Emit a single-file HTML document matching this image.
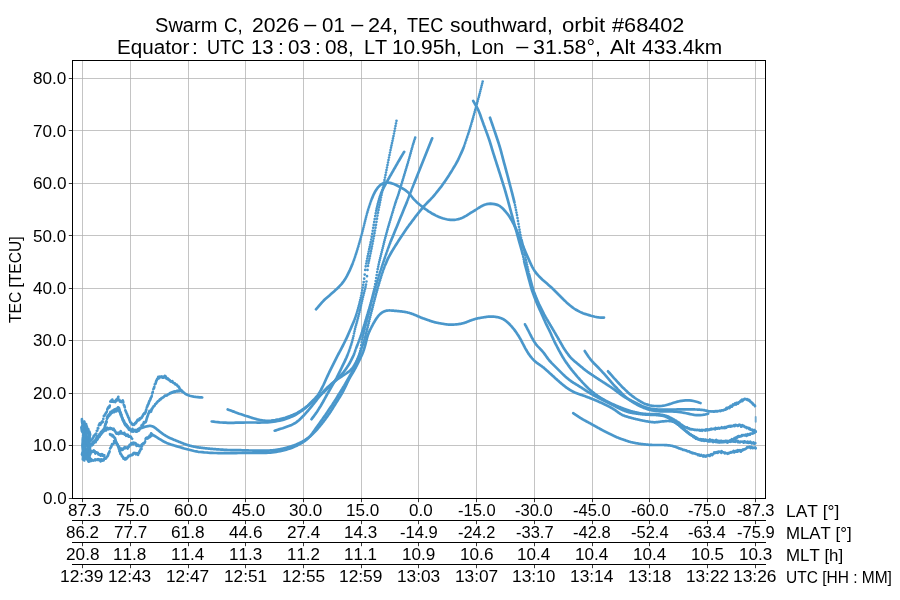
<!DOCTYPE html>
<html lang="en"><head><meta charset="utf-8"><title>Swarm C TEC southward, orbit #68402</title>
<style>
html,body{margin:0;padding:0;background:#fff}
body{width:900px;height:600px;position:relative;overflow:hidden;font-family:"Liberation Sans",sans-serif;color:#000}
.t{position:absolute;white-space:pre;transform-origin:0 0;font-kerning:none;display:block}
.a{font-size:16.25px;line-height:16.25px}
.h{font-size:19.4px;line-height:19.4px}
.yl{position:absolute;white-space:pre;font-kerning:none;transform-origin:0 0}
</style></head><body>
<svg width="900" height="600" viewBox="0 0 900 600" style="position:absolute;left:0;top:0">
<path d="M82.5 60.5V498.5M130.5 60.5V498.5M188.5 60.5V498.5M245.5 60.5V498.5M303.5 60.5V498.5M361.5 60.5V498.5M418.5 60.5V498.5M476.5 60.5V498.5M534.5 60.5V498.5M592.5 60.5V498.5M649.5 60.5V498.5M707.5 60.5V498.5M755.5 60.5V498.5" stroke="#b0b0b0" stroke-opacity="0.75" stroke-width="1" fill="none" shape-rendering="crispEdges"/>
<path d="M72.5 498.5H765.5M72.5 445.5H765.5M72.5 393.5H765.5M72.5 340.5H765.5M72.5 288.5H765.5M72.5 235.5H765.5M72.5 183.5H765.5M72.5 130.5H765.5M72.5 78.5H765.5" stroke="#b0b0b0" stroke-opacity="0.75" stroke-width="1" fill="none" shape-rendering="crispEdges"/>
<g fill="none" stroke="#4a97cb" stroke-width="2.7" stroke-linecap="round" stroke-linejoin="round">
<path d="M316.0 309.3 317.5 307.6 319.0 305.8 320.5 304.1 322.0 302.4 323.5 300.8 325.0 299.3 326.5 298.0 328.0 296.7 329.5 295.4 331.0 294.1 332.5 292.8 334.0 291.5 335.5 290.1 337.0 288.8 338.5 287.3 340.0 285.7 341.5 284.1 343.0 282.2 344.0 280.8 345.0 279.3 346.0 277.6 347.0 275.8 348.0 273.9 349.0 271.9 350.0 269.8 351.0 267.5 352.0 265.1 352.5 263.9M353.0 262.6h0M353.5 261.3h0M354.0 259.9h0M354.5 258.5h0M355.0 257.0h0M355.5 255.4h0M356.0 253.9h0M356.5 252.4h0M357.0 250.8h0M357.5 249.2h0M358.0 247.5h0M358.5 245.9h0M359.0 244.1h0M359.5 242.4h0M360.0 240.7h0M360.5 238.9h0M361.0 237.1h0M361.5 235.3h0M362.0 233.4h0M362.5 231.4h0M363.0 229.4h0M363.5 227.5h0M364.0 225.5h0M364.5 223.4h0M365.0 221.4h0M365.5 219.4h0M366.0 217.4h0M366.5 215.5h0M367.0 213.6h0M367.5 211.9h0M368.0 210.2h0M368.5 208.6h0M369.0 207.0h0M369.5 205.5h0M370.0 204.0h0M370.5 202.5h0M371.0 201.0h0M371.5 199.7h0M372.0 198.4 373.0 196.0 374.0 193.8 375.0 191.8 376.0 190.2 377.0 188.7 378.0 187.4 379.5 185.8 381.0 184.5 382.5 183.7 384.0 183.1 386.0 182.6 388.0 182.6 390.0 182.9 392.0 183.4 394.0 184.1 395.5 184.8 397.0 185.5 398.5 186.3 400.0 187.1 401.5 187.9 403.0 188.7 404.5 189.6 406.0 190.7 407.5 191.9 409.0 193.4 410.5 195.1 412.0 197.0 413.5 198.8 415.0 200.4 416.5 201.9 418.0 203.2 419.5 204.5 421.0 205.7 422.5 206.9 424.0 208.1 425.5 209.2 427.0 210.2 428.5 211.3 430.0 212.2 431.5 213.2 433.0 214.0 434.5 214.8 436.0 215.6 437.5 216.3 439.0 216.9 440.5 217.5 442.5 218.2 444.5 218.8 446.5 219.3 448.5 219.7 450.5 219.9 452.5 219.9 454.5 219.8 456.5 219.5 458.5 219.1 460.5 218.5 462.0 217.9 463.5 217.2 465.0 216.4 466.5 215.6 468.0 214.6 469.5 213.7 471.0 212.7 472.5 211.8 474.0 210.9 475.5 210.0 477.0 209.0 478.5 208.0 480.0 207.1 481.5 206.2 483.0 205.4 484.5 204.8 486.5 204.2 488.5 203.9 490.5 203.7 492.5 203.8 494.5 204.1 496.5 204.6 498.0 205.1 499.5 205.9 501.0 207.0 502.5 208.3 504.0 209.8 505.5 211.5 507.0 213.3 508.0 214.6 509.0 216.1 510.0 217.6 511.0 219.2 512.0 220.9 513.0 222.8 514.0 224.7 515.0 226.8 516.0 228.9 517.0 231.2 518.0 233.6 519.0 236.1M519.5 237.4h0M520.0 238.6h0M520.5 239.9 521.5 242.4 522.5 244.8 523.5 247.2 524.5 249.5 525.5 251.9 526.5 254.2 527.5 256.5 528.5 258.8 529.5 261.1 530.5 263.3 531.5 265.4 532.5 267.3 533.5 269.1 534.5 270.7 535.5 272.1 536.5 273.5 538.0 275.2 539.5 276.8 541.0 278.2 542.5 279.7 544.0 281.0 545.5 282.3 547.0 283.6 548.5 284.9 550.0 286.2 551.5 287.6 553.0 289.0 554.5 290.5 556.0 292.0 557.5 293.5 559.0 295.0 560.5 296.5 562.0 298.0 563.5 299.5 565.0 300.9 566.5 302.4 568.0 303.7 569.5 305.0 571.0 306.2 572.5 307.4 574.0 308.5 575.5 309.5 577.0 310.3 578.5 311.1 580.0 311.9 581.5 312.6 583.0 313.2 585.0 313.9 587.0 314.5 589.0 315.1 591.0 315.7 593.0 316.2 595.0 316.7 597.0 317.1 599.0 317.4 601.0 317.6 603.0 317.6 604.0 317.6"/>
<path d="M92.0 445.0 92.5 444.7 93.0 443.8 93.5 443.0 94.0 442.7 94.5 442.0 95.0 442.0 95.5 442.2 96.0 440.7 96.5 440.0 97.0 439.9 97.5 439.2 98.0 438.3 98.5 437.1 99.0 436.9 99.5 436.6 100.0 434.8 100.5 434.6 101.0 433.1 101.5 432.8 102.0 431.7 102.5 431.9 103.0 430.7 103.5 430.8 104.0 430.0 104.5 428.9M105.0 425.6 105.5 424.7 106.0 423.0 106.5 421.3M107.0 418.7 107.5 417.5 108.0 416.3 108.5 415.8 109.0 416.1 109.5 414.4 110.0 414.2 110.5 414.3 111.0 413.1 111.5 413.0 112.0 412.8 112.5 412.4 113.0 411.3 113.5 411.7 114.0 412.1 114.5 410.3 115.0 411.4 115.5 410.7 116.0 410.0 116.5 411.3 117.0 410.4 117.5 409.2 118.0 409.7 118.5 409.8 119.0 409.8 119.5 411.5 120.0 412.4 120.5 414.0 121.0 415.7 121.5 415.8 122.0 417.5 122.5 418.6 123.0 420.5 123.5 421.2 124.0 422.4 124.5 423.3 125.0 424.6 125.5 425.4 126.0 424.7 126.5 425.6 127.0 427.0 127.5 426.2 128.0 427.6 128.5 428.5 129.0 429.8 129.5 429.9 130.0 429.6 130.5 429.8 131.0 430.2 131.5 431.4 132.0 430.6 132.5 430.9 133.0 431.5 133.5 431.2 134.0 431.1 134.5 430.5 135.0 431.1 135.5 430.8 136.0 431.6 136.5 431.0 137.0 430.2 137.5 430.2 138.0 429.2"/>
<path d="M138.3 429.2 138.8 429.0 139.3 428.8 139.8 428.6 140.3 428.5 140.8 428.3 141.3 428.1 141.8 427.9 142.3 427.7 142.8 427.6 143.3 427.4 143.8 427.2 144.3 427.1 144.8 426.9 145.3 426.8 145.8 426.6 146.3 426.5 146.8 426.4 147.3 426.2 147.8 426.1 148.3 426.1 148.8 426.0 149.3 425.9 149.8 425.9 150.3 425.9 150.8 426.0 151.3 426.0 151.8 426.2 152.3 426.3 152.8 426.5 153.3 426.7 153.8 427.0 154.3 427.3 154.8 427.6 155.3 428.0 155.8 428.4 156.3 428.8 156.8 429.2 157.3 429.6 157.8 430.0 158.3 430.4 158.8 430.8 159.3 431.2 159.8 431.6 160.3 432.0 160.8 432.4 161.3 432.8 161.8 433.2 162.3 433.5 162.8 433.9 163.3 434.2 163.8 434.6 164.3 434.9 164.8 435.2 165.3 435.5 165.8 435.8 166.3 436.1 166.8 436.4 167.3 436.7 167.8 437.0 168.3 437.2 168.8 437.5 169.3 437.7 169.8 438.0 170.3 438.2 170.8 438.4 171.3 438.6 171.8 438.8 172.3 439.0 172.8 439.3 173.3 439.5 173.8 439.7 174.3 439.9 174.8 440.1 175.3 440.3 175.8 440.5 176.3 440.7 176.8 440.9 177.3 441.1 177.8 441.3 178.3 441.5 178.8 441.7 179.3 441.9 179.8 442.1 180.3 442.3 180.8 442.5 181.3 442.7 181.8 442.9 182.3 443.1 182.8 443.3 183.3 443.5 183.8 443.7 184.3 443.9 184.8 444.1 185.3 444.3 185.8 444.5 186.3 444.6 186.8 444.8 187.3 445.0 187.8 445.1 188.3 445.3 188.8 445.4 189.3 445.5 189.8 445.7 190.3 445.8 190.8 445.9 191.3 446.0 191.8 446.2 192.3 446.3 192.8 446.4 193.3 446.5 193.8 446.6 194.3 446.7 194.8 446.8 195.3 446.9 195.8 447.0 196.3 447.1 196.8 447.2 197.3 447.3 197.8 447.3 198.3 447.4 198.8 447.5 199.3 447.6 199.8 447.6 200.3 447.7 200.8 447.7 201.3 447.8 201.8 447.9 202.3 447.9 202.8 448.0 203.3 448.0 203.8 448.1 204.3 448.2 204.8 448.2 205.3 448.3 205.8 448.3 206.3 448.4 206.8 448.4 207.3 448.5 207.8 448.5 208.3 448.6 208.8 448.6 209.3 448.7 209.8 448.7 210.3 448.8 210.8 448.8 211.3 448.9 211.8 448.9 212.3 448.9 212.8 449.0 213.3 449.0 213.8 449.1 214.3 449.1 214.8 449.1 215.3 449.2 215.8 449.2 216.3 449.3 216.8 449.3 217.3 449.3 217.8 449.4 218.3 449.4 218.8 449.4 219.3 449.5 219.8 449.5 220.3 449.5 220.8 449.6 221.3 449.6 221.8 449.6 222.3 449.7 222.8 449.7 223.3 449.7 223.8 449.8 224.3 449.8 224.8 449.8 225.3 449.9 225.8 449.9 226.3 449.9 226.8 449.9 227.3 450.0 227.8 450.0 228.3 450.0 228.8 450.0 229.3 450.0 229.8 450.0 230.3 450.0 230.8 450.1 231.3 450.1 231.8 450.1 232.3 450.1 232.8 450.1 233.3 450.1 233.8 450.1 234.3 450.1 234.8 450.1 235.3 450.1 235.8 450.1 236.3 450.1 236.8 450.2 237.3 450.2 237.8 450.2 238.3 450.2 238.8 450.2 239.3 450.2 239.8 450.2 240.3 450.2 240.8 450.2 241.3 450.2 241.8 450.3 242.3 450.3 242.8 450.3 243.3 450.3 243.8 450.3 244.3 450.3 244.8 450.3 245.3 450.4 245.8 450.4 246.3 450.4 246.8 450.4 247.3 450.4 247.8 450.4 248.3 450.4 248.8 450.5 249.3 450.5 249.8 450.5 250.3 450.5 250.8 450.5 251.3 450.5 251.8 450.5 252.3 450.5 252.8 450.6 253.3 450.6 253.8 450.6 254.3 450.6 254.8 450.6 255.3 450.6 255.8 450.6 256.3 450.6 256.8 450.7 257.3 450.7 257.8 450.7 258.3 450.7 258.8 450.7 259.3 450.7 259.8 450.7 260.3 450.7 260.8 450.7 261.3 450.7 261.8 450.7 262.3 450.7 262.8 450.7 263.3 450.7 263.8 450.7 264.3 450.7 264.8 450.7 265.3 450.7 265.8 450.7 266.3 450.6 266.8 450.6 267.3 450.6 267.8 450.6 268.3 450.6 268.8 450.5 269.3 450.5 269.8 450.5 270.3 450.4 270.8 450.4 271.3 450.4 271.8 450.3 272.3 450.3 272.8 450.3 273.3 450.2 273.8 450.2 274.3 450.1 274.8 450.0 275.3 450.0 275.8 449.9 276.3 449.8 276.8 449.7 277.3 449.7 277.8 449.6 278.3 449.5 278.8 449.4 279.3 449.3 279.8 449.2 280.3 449.1 280.8 449.0 281.3 448.9 281.8 448.8 282.3 448.7 282.8 448.6 283.3 448.5 283.8 448.4 284.3 448.2 284.8 448.1 285.3 448.0 285.8 447.9 286.3 447.7 286.8 447.6 287.3 447.5 287.8 447.3 288.3 447.2 288.8 447.0 289.3 446.9 289.8 446.8 290.3 446.6 290.8 446.5 291.3 446.3 291.8 446.1 292.3 446.0 292.8 445.8 293.3 445.6 293.8 445.5 294.3 445.3 294.8 445.1 295.3 444.9 295.8 444.7 296.3 444.5 296.8 444.3 297.3 444.0 297.8 443.8 298.3 443.6 298.8 443.4 299.3 443.1 299.8 442.9 300.3 442.6 300.8 442.4 301.3 442.1 301.8 441.9 302.3 441.6 302.8 441.3 303.3 441.1 303.8 440.8 304.3 440.5 304.8 440.2 305.3 439.8 305.8 439.5 306.3 439.2 306.8 438.8 307.3 438.5 307.8 438.1 308.3 437.7 308.8 437.4 309.3 437.0 309.8 436.6 310.3 436.2 310.8 435.7 311.3 435.3 311.8 434.8 312.3 434.3 312.8 433.9 313.3 433.4 313.8 432.9 314.3 432.4 314.8 431.9 315.3 431.3 315.8 430.8 316.3 430.3 316.8 429.7 317.3 429.2 317.8 428.6 318.3 428.0 318.8 427.4 319.3 426.8 319.8 426.2 320.3 425.6 320.8 425.0 321.3 424.4 321.8 423.8 322.3 423.1 322.8 422.5 323.3 421.9 323.8 421.2 324.3 420.5 324.8 419.9 325.3 419.2 325.8 418.5 326.3 417.8 326.8 417.1 327.3 416.4 327.8 415.7 328.3 415.0 328.8 414.3 329.3 413.6 329.8 412.9 330.3 412.1 330.8 411.4 331.3 410.6 331.8 409.8 332.3 409.0 332.8 408.2 333.3 407.4 333.8 406.6 334.3 405.8 334.8 405.0 335.3 404.2 335.8 403.4 336.3 402.6 336.8 401.8 337.3 401.0 337.8 400.2 338.3 399.4 338.8 398.6 339.3 397.8 339.8 397.0 340.3 396.2 340.8 395.3 341.3 394.5 341.8 393.7 342.3 392.8 342.8 391.9 343.3 391.0 343.8 390.0 344.3 389.0 344.8 388.0 345.3 387.0 345.8 385.9 346.3 384.8 346.8 383.8 347.3 382.7 347.8 381.7 348.3 380.7 348.8 379.7 349.3 378.7 349.8 377.8 350.3 376.9 350.8 376.1 351.3 375.2 351.8 374.4 352.3 373.5 352.8 372.7 353.3 371.9 353.8 371.0 354.3 370.1 354.8 369.2 355.3 368.3 355.8 367.3 356.3 366.4 356.8 365.4 357.3 364.4 357.8 363.4 358.3 362.4 358.8 361.4 359.3 360.4 359.8 359.4 360.3 358.3 360.8 357.3 361.3 356.2 361.8 355.1 362.3 354.0 362.8 352.7 363.3 351.4 363.8 350.0 364.3 348.4 364.8 346.7 365.3 344.8 365.8 342.8 366.3 340.8 366.8 338.9 367.3 337.0 367.8 335.4 368.3 334.0 368.8 332.7 369.3 331.6 369.8 330.5 370.3 329.5 370.8 328.5 371.3 327.5 371.8 326.5 372.3 325.6 372.8 324.7 373.3 323.7 373.8 322.8 374.3 322.0 374.8 321.1 375.3 320.3 375.8 319.5 376.3 318.7 376.8 317.9 377.3 317.3 377.8 316.6 378.3 316.0 378.8 315.4 379.3 314.9 379.8 314.4 380.3 313.9 380.8 313.5 381.3 313.1 381.8 312.7 382.3 312.4 382.8 312.1 383.3 311.8 383.8 311.6 384.3 311.4 384.8 311.2 385.3 311.0 385.8 310.9 386.3 310.8 386.8 310.6 387.3 310.6 387.8 310.5 388.3 310.5 388.8 310.5 389.3 310.4 389.8 310.5 390.3 310.5 390.8 310.5 391.3 310.5 391.8 310.6 392.3 310.6 392.8 310.6 393.3 310.7 393.8 310.7 394.3 310.8 394.8 310.8 395.3 310.8 395.8 310.9 396.3 310.9 396.8 311.0 397.3 311.0 397.8 311.1 398.3 311.1 398.8 311.1 399.3 311.2 399.8 311.3 400.3 311.3 400.8 311.4 401.3 311.4 401.8 311.5 402.3 311.6 402.8 311.6 403.3 311.7 403.8 311.8 404.3 311.9 404.8 311.9 405.3 312.0 405.8 312.1 406.3 312.2 406.8 312.3 407.3 312.4 407.8 312.6 408.3 312.7 408.8 312.8 409.3 312.9 409.8 313.1 410.3 313.2 410.8 313.4 411.3 313.5 411.8 313.7 412.3 313.9 412.8 314.1 413.3 314.3 413.8 314.5 414.3 314.7 414.8 314.9 415.3 315.1 415.8 315.3 416.3 315.5 416.8 315.7 417.3 316.0 417.8 316.2 418.3 316.4 418.8 316.6 419.3 316.8 419.8 317.1 420.3 317.3 420.8 317.5 421.3 317.7 421.8 317.9 422.3 318.0 422.8 318.2 423.3 318.4 423.8 318.6 424.3 318.8 424.8 319.0 425.3 319.1 425.8 319.3 426.3 319.5 426.8 319.7 427.3 319.8 427.8 320.0 428.3 320.2 428.8 320.3 429.3 320.5 429.8 320.7 430.3 320.9 430.8 321.0 431.3 321.2 431.8 321.4 432.3 321.5 432.8 321.7 433.3 321.8 433.8 322.0 434.3 322.1 434.8 322.2 435.3 322.4 435.8 322.5 436.3 322.6 436.8 322.7 437.3 322.8 437.8 322.9 438.3 323.0 438.8 323.1 439.3 323.2 439.8 323.3 440.3 323.4 440.8 323.5 441.3 323.5 441.8 323.6 442.3 323.7 442.8 323.8 443.3 323.9 443.8 324.0 444.3 324.0 444.8 324.1 445.3 324.2 445.8 324.3 446.3 324.3 446.8 324.4 447.3 324.5 447.8 324.5 448.3 324.6 448.8 324.6 449.3 324.6 449.8 324.7 450.3 324.7 450.8 324.7 451.3 324.7 451.8 324.7 452.3 324.7 452.8 324.6 453.3 324.6 453.8 324.6 454.3 324.5 454.8 324.5 455.3 324.5 455.8 324.4 456.3 324.4 456.8 324.3 457.3 324.3 457.8 324.2 458.3 324.1 458.8 324.1 459.3 324.0 459.8 323.9 460.3 323.8 460.8 323.8 461.3 323.7 461.8 323.5 462.3 323.4 462.8 323.3 463.3 323.2 463.8 323.0 464.3 322.9 464.8 322.7 465.3 322.5 465.8 322.4 466.3 322.2 466.8 322.0 467.3 321.8 467.8 321.6 468.3 321.4 468.8 321.2 469.3 321.0 469.8 320.8 470.3 320.6 470.8 320.5 471.3 320.3 471.8 320.1 472.3 319.9 472.8 319.7 473.3 319.6 473.8 319.4 474.3 319.2 474.8 319.1 475.3 318.9 475.8 318.8 476.3 318.7 476.8 318.6 477.3 318.5 477.8 318.3 478.3 318.2 478.8 318.2 479.3 318.1 479.8 318.0 480.3 317.9 480.8 317.8 481.3 317.7 481.8 317.6 482.3 317.5 482.8 317.5 483.3 317.4 483.8 317.3 484.3 317.2 484.8 317.1 485.3 317.1 485.8 317.0 486.3 316.9 486.8 316.9 487.3 316.8 487.8 316.7 488.3 316.7 488.8 316.7 489.3 316.6 489.8 316.6 490.3 316.6 490.8 316.6 491.3 316.6 491.8 316.6 492.3 316.6 492.8 316.6 493.3 316.7 493.8 316.7 494.3 316.7 494.8 316.8 495.3 316.9 495.8 316.9 496.3 317.0 496.8 317.1 497.3 317.1 497.8 317.2 498.3 317.3 498.8 317.5 499.3 317.6 499.8 317.7 500.3 317.9 500.8 318.1 501.3 318.2 501.8 318.5 502.3 318.7 502.8 318.9 503.3 319.2 503.8 319.5 504.3 319.8 504.8 320.1 505.3 320.5 505.8 320.9 506.3 321.2 506.8 321.7 507.3 322.1 507.8 322.6 508.3 323.0 508.8 323.5 509.3 324.0 509.8 324.5 510.3 325.0 510.8 325.6 511.3 326.1 511.8 326.7 512.3 327.3 512.8 327.9 513.3 328.5 513.8 329.1 514.3 329.7 514.8 330.4 515.3 331.1 515.8 331.8 516.3 332.5 516.8 333.2 517.3 334.0 517.8 334.7 518.3 335.5 518.8 336.3 519.3 337.1 519.8 338.0 520.3 338.8 520.8 339.7 521.3 340.6 521.8 341.6 522.3 342.6 522.8 343.5 523.3 344.5 523.8 345.5 524.3 346.4 524.8 347.3 525.3 348.3 525.8 349.2 526.3 350.0 526.8 350.9 527.3 351.8 527.8 352.6 528.3 353.4 528.8 354.1 529.3 354.8 529.8 355.5 530.3 356.2 530.8 356.8 531.3 357.4 531.8 358.0 532.3 358.6 532.8 359.1 533.3 359.6 533.8 360.2 534.3 360.6 534.8 361.1 535.3 361.6 535.8 362.0 536.3 362.4 536.8 362.8 537.3 363.1 537.8 363.5 538.3 363.9 538.8 364.2 539.3 364.5 539.8 364.9 540.3 365.2 540.8 365.6 541.3 365.9 541.8 366.3 542.3 366.7 542.8 367.1 543.3 367.4 543.8 367.8 544.3 368.3 544.8 368.7 545.3 369.1 545.8 369.6 546.3 370.0 546.8 370.5 547.3 370.9 547.8 371.4 548.3 371.8 548.8 372.3 549.3 372.7 549.8 373.2 550.3 373.6 550.8 374.1 551.3 374.5 551.8 375.0 552.3 375.5 552.8 375.9 553.3 376.4 553.8 376.8 554.3 377.3 554.8 377.7 555.3 378.2 555.8 378.6 556.3 379.1 556.8 379.5 557.3 380.0 557.8 380.4 558.3 380.9 558.8 381.3 559.3 381.8 559.8 382.2 560.3 382.6 560.8 383.0 561.3 383.5 561.8 383.9 562.3 384.3 562.8 384.7 563.3 385.1 563.8 385.5 564.3 385.9 564.8 386.3 565.3 386.7 565.8 387.1 566.3 387.5 566.8 387.8 567.3 388.2 567.8 388.5 568.3 388.8 568.8 389.2 569.3 389.5 569.8 389.8 570.3 390.1 570.8 390.4 571.3 390.7 571.8 390.9 572.3 391.2 572.8 391.5 573.3 391.7 573.8 392.0 574.3 392.2 574.8 392.5 575.3 392.7 575.8 392.9 576.3 393.1 576.8 393.3 577.3 393.5 577.8 393.7 578.3 393.8 578.8 394.0 579.3 394.2 579.8 394.4 580.3 394.5 580.8 394.7 581.3 394.9 581.8 395.0 582.3 395.2 582.8 395.4 583.3 395.6 583.8 395.8 584.3 395.9 584.8 396.1 585.3 396.3 585.8 396.5 586.3 396.7 586.8 396.9 587.3 397.0 587.8 397.2 588.3 397.4 588.8 397.6 589.3 397.8 589.8 398.0 590.3 398.2 590.8 398.4 591.3 398.6 591.8 398.8 592.3 399.0 592.8 399.2 593.3 399.4 593.8 399.6 594.3 399.8 594.8 400.0 595.3 400.2 595.8 400.4 596.3 400.6 596.8 400.8 597.3 401.1 597.8 401.3 598.3 401.5 598.8 401.7 599.3 401.9 599.8 402.2 600.3 402.4 600.8 402.6 601.3 402.8 601.8 403.1 602.3 403.3 602.8 403.5 603.3 403.7 603.8 404.0 604.3 404.2 604.8 404.5 605.3 404.7 605.8 404.9 606.3 405.2 606.8 405.4 607.3 405.7 607.8 405.9 608.3 406.2 608.8 406.4 609.3 406.7 609.8 407.0 610.3 407.2 610.8 407.5 611.3 407.8 611.8 408.1 612.3 408.4 612.8 408.7 613.3 409.0 613.8 409.3 614.3 409.6 614.8 409.9 615.3 410.3 615.8 410.7 616.3 411.0 616.8 411.4 617.3 411.7 617.8 412.1 618.3 412.5 618.8 412.8 619.3 413.2 619.8 413.5 620.3 413.8 620.8 414.1 621.3 414.4 621.8 414.7 622.3 414.9 622.8 415.2 623.3 415.4 623.8 415.6 624.3 415.8 624.8 416.0 625.3 416.2 625.8 416.3 626.3 416.5 626.8 416.6 627.3 416.8 627.8 416.9 628.3 417.1 628.8 417.2 629.3 417.4 629.8 417.5 630.3 417.6 630.8 417.8 631.3 417.9 631.8 418.0 632.3 418.2 632.8 418.3 633.3 418.4 633.8 418.6 634.3 418.7 634.8 418.8 635.3 418.9 635.8 419.1 636.3 419.2 636.8 419.3 637.3 419.4 637.8 419.5 638.3 419.6 638.8 419.7 639.3 419.8 639.8 420.0 640.3 420.1 640.8 420.2 641.3 420.3 641.8 420.4 642.3 420.5 642.8 420.6 643.3 420.7 643.8 420.8 644.3 420.9 644.8 421.0 645.3 421.1 645.8 421.2 646.3 421.3 646.8 421.4 647.3 421.4 647.8 421.5 648.3 421.6 648.8 421.7 649.3 421.8 649.8 421.8 650.3 421.9 650.8 422.0 651.3 422.0 651.8 422.1 652.3 422.2 652.8 422.2 653.3 422.2 653.8 422.3 654.3 422.3 654.8 422.3 655.3 422.3 655.8 422.2 656.3 422.2 656.8 422.2 657.3 422.1 657.8 422.1 658.3 422.0 658.8 421.9 659.3 421.9 659.8 421.8 660.3 421.7 660.8 421.6 661.3 421.5 661.8 421.5 662.3 421.4 662.8 421.4 663.3 421.3 663.8 421.3 664.3 421.3 664.8 421.2 665.3 421.1 665.8 421.1 666.3 421.1 666.8 421.0 667.3 421.0 667.8 421.0 668.3 421.0 668.8 421.0 669.3 421.1 669.8 421.2 670.3 421.1 670.8 421.2 671.3 421.3 671.8 421.4 672.3 421.6 672.8 421.6 673.3 421.8 673.8 421.8 674.3 422.1 674.8 422.5 675.3 422.7 675.8 422.9 676.3 423.3 676.8 423.7 677.3 424.1 677.8 424.4 678.3 424.8 678.8 425.0 679.3 425.5 679.8 426.3 680.3 426.3 680.8 426.9 681.3 427.5 681.8 427.8 682.3 428.2 682.8 428.7 683.3 429.1 683.8 429.5 684.3 429.7 684.8 430.3 685.3 430.6 685.8 431.0 686.3 431.6 686.8 432.0 687.3 432.4 687.8 432.6 688.3 433.2 688.8 433.6 689.3 434.0 689.8 434.4 690.3 434.4 690.8 434.8 691.3 435.3 691.8 435.2 692.3 435.8 692.8 436.0 693.3 436.3 693.8 436.3 694.3 436.8 694.8 437.3 695.3 437.8 695.8 438.1 696.3 438.1 696.8 438.3 697.3 438.4 697.8 438.9 698.3 438.9 698.8 439.3 699.3 439.7 699.8 439.4 700.3 439.1 700.8 439.4 701.3 439.3 701.8 439.4 702.3 440.1 702.8 439.8 703.3 439.4 703.8 440.0 704.3 440.2 704.8 439.7 705.3 439.6 705.8 439.7 706.3 439.9 706.8 440.1 707.3 440.3 707.8 440.3 708.3 440.3 708.8 440.4 709.3 440.2 709.8 439.5 710.3 440.0 710.8 440.2 711.3 440.1 711.8 440.6 712.3 440.2 712.8 440.1 713.3 441.0 713.8 440.8 714.3 440.7 714.8 441.0 715.3 441.1 715.8 440.9 716.3 440.0 716.8 440.7 717.3 440.8 717.8 440.7 718.3 441.2 718.8 441.7 719.3 441.1 719.8 440.9 720.3 442.2 720.8 441.2 721.3 440.9 721.8 441.6 722.3 441.6 722.8 441.2 723.3 441.8 723.8 441.3 724.3 441.1 724.8 441.6 725.3 441.8 725.8 441.2 726.3 441.6 726.8 441.4 727.3 442.5 727.8 441.1 728.3 441.9 728.8 441.3 729.3 441.3 729.8 441.6 730.3 441.6 730.8 441.8 731.3 441.4 731.8 441.0 732.3 441.0 732.8 441.4 733.3 441.4 733.8 441.7 734.3 441.4 734.8 441.6 735.3 441.8 735.8 441.3 736.3 440.7 736.8 440.9 737.3 440.8 737.8 442.0 738.3 441.1 738.8 442.0 739.3 441.8 739.8 442.3 740.3 442.0 740.8 441.6 741.3 441.7 741.8 441.8 742.3 441.9 742.8 441.7 743.3 441.9 743.8 442.6 744.3 441.3 744.8 442.1 745.3 441.7 745.8 442.2 746.3 442.5 746.8 442.2 747.3 442.6 747.8 441.7 748.3 442.8 748.8 442.2 749.3 442.7 749.8 442.6 750.3 441.6 750.8 442.4 751.3 442.8 751.8 443.4 752.3 443.0 752.8 443.0 753.3 442.4 753.8 443.6 754.3 443.8 754.8 443.2 755.3 443.2"/>
<path d="M87.6 459.3 88.1 460.7 88.6 461.7 89.1 460.6 89.6 460.9 90.1 460.5 90.6 459.7 91.1 460.9 91.6 459.5 92.1 460.1 92.6 460.4 93.1 460.7 93.6 460.4 94.1 460.4 94.6 459.8 95.1 459.5 95.6 460.2 96.1 459.8 96.6 459.5 97.1 459.5 97.6 459.9 98.1 459.2 98.6 459.5 99.1 459.3 99.6 460.3 100.1 460.4 100.6 461.3 101.1 459.4 101.6 459.8 102.1 460.7 102.6 459.8 103.1 459.5 103.6 460.3 104.1 459.0 104.6 458.3 105.1 457.9 105.6 458.6 106.1 458.3 106.6 457.1 107.1 456.6 107.6 456.2 108.1 455.1 108.6 453.2 109.1 452.8 109.6 451.3M110.1 448.5 110.6 447.8 111.1 447.1 111.6 445.8 112.1 444.1 112.6 444.2 113.1 444.0 113.6 443.7M114.1 441.0 114.6 443.0M115.1 440.2 115.6 440.7 116.1 442.0 116.6 443.1 117.1 443.8 117.6 444.2 118.1 446.3 118.6 446.6 119.1 446.6M119.6 450.6 120.1 449.4 120.6 450.0 121.1 448.5 121.6 449.8 122.1 449.9 122.6 449.9 123.1 448.9 123.6 448.1 124.1 448.5 124.6 447.2 125.1 447.3 125.6 448.1 126.1 447.4 126.6 447.6 127.1 447.5 127.6 448.5 128.1 447.6 128.6 446.4 129.1 446.6 129.6 445.0 130.1 444.7 130.6 444.9 131.1 443.4 131.6 443.7 132.1 443.0 132.6 443.6 133.1 444.2 133.6 442.7 134.1 443.2 134.6 442.9 135.1 443.1 135.6 443.3 136.1 445.1 136.6 445.9 137.1 445.2 137.6 444.8 138.1 445.7 138.6 445.3 139.1 446.2 139.6 446.1 140.1 446.2 140.6 446.4 141.1 445.4 141.6 445.1 142.1 444.1 142.6 444.4 143.1 443.5 143.6 443.9 144.1 443.1 144.6 442.9 145.1 441.5M145.6 439.0 146.1 438.1 146.6 437.7 147.1 438.4 147.6 438.6 148.1 437.8 148.6 436.8 149.1 437.5 149.6 435.6 150.1 436.9 150.6 435.1 151.1 433.4M151.6 435.8h0"/>
<path d="M151.7 434.2 153.2 435.1 154.7 436.0 156.2 436.9 157.7 437.8 159.2 438.8 160.7 439.7 162.2 440.6 163.7 441.5 165.2 442.2 166.7 442.9 168.2 443.5 170.2 444.2 172.2 444.9 174.2 445.5 176.2 446.1 178.2 446.7 180.2 447.3 182.2 447.9 184.2 448.5 186.2 449.0 188.2 449.5 190.2 450.0 192.2 450.5 194.2 451.0 196.2 451.4 198.2 451.8 200.2 452.0 202.2 452.2 204.2 452.4 206.2 452.5 208.2 452.7 210.2 452.8 212.2 452.9 214.2 453.0 216.2 453.0 218.2 453.1 220.2 453.1 222.2 453.1 224.2 453.1 226.2 453.2 228.2 453.2 230.2 453.2 232.2 453.1 234.2 453.1 236.2 453.1 238.2 453.0 240.2 453.0 242.2 453.0 244.2 453.0 246.2 453.0 248.2 453.0 250.2 453.0 252.2 453.0 254.2 453.0 256.2 453.0 258.2 453.0 260.2 453.0 262.2 453.0 264.2 452.9 266.2 452.8 268.2 452.7 270.2 452.6 272.2 452.4 274.2 452.2 276.2 451.9 278.2 451.5 280.2 451.1 282.2 450.7 284.2 450.2 286.2 449.6 288.2 449.0 290.2 448.4 292.2 447.7 293.7 447.1 295.2 446.4 296.7 445.7 298.2 444.9 299.7 444.1 301.2 443.3 302.7 442.3 304.2 441.4 305.7 440.3 307.2 439.1 308.7 437.7 310.2 436.1 311.2 434.8 312.2 433.5 313.2 432.1 314.2 430.7 315.2 429.3 316.2 427.9 317.2 426.5 318.2 425.1 319.2 423.7 320.2 422.3 321.2 420.9 322.2 419.5 323.2 418.0 324.2 416.6 325.2 415.2 326.2 413.7 327.2 412.3 328.2 410.8 329.2 409.3 330.2 407.8 331.2 406.4 332.2 404.9 333.2 403.3 334.2 401.8 335.2 400.2 336.2 398.6 337.2 397.0 338.2 395.3 339.2 393.7 340.2 392.1 341.2 390.5 342.2 388.9 343.2 387.2 344.2 385.6 345.2 383.9 346.2 382.1 347.2 380.4 348.2 378.7 349.2 377.0 350.2 375.2 351.2 373.4 352.2 371.5 353.2 369.4 354.2 367.3 355.2 365.1 356.2 362.8 357.2 360.5 358.2 358.1M358.7 356.8h0M359.2 355.5h0M359.7 354.2h0M360.2 352.9h0M360.7 351.5h0M361.2 350.1h0M361.7 348.6h0M362.2 347.1h0M362.7 345.6h0M363.2 344.0h0M363.7 342.4h0M364.2 340.7h0M364.7 339.0h0M365.2 337.2h0M365.7 335.2h0M366.2 333.2h0M366.7 331.2h0M367.2 329.2h0M367.7 327.2h0M368.2 325.2h0M368.7 323.2h0M369.2 321.2h0M369.7 319.1h0M370.2 317.1h0M370.7 315.1h0M371.2 313.1h0M371.7 311.1h0M372.2 309.2h0M372.7 307.2h0M373.2 305.2h0M373.7 303.3h0M374.2 301.3h0M374.7 299.4h0M375.2 297.5h0M375.7 295.7h0M376.2 293.8h0M376.7 292.0h0M377.2 290.2h0M377.7 288.4h0M378.2 286.6h0M378.7 284.9h0M379.2 283.2h0M379.7 281.5h0M380.2 279.9h0M380.7 278.3h0M381.2 276.7h0M381.7 275.1h0M382.2 273.6h0M382.7 272.0h0M383.2 270.5h0M383.7 269.1h0M384.2 267.8h0M384.7 266.4h0M385.2 265.1h0M385.7 263.9 386.7 261.4 387.7 259.1 388.7 257.1 389.7 255.3 390.7 253.5 391.7 251.8 392.7 250.1 393.7 248.5 394.7 246.9 395.7 245.3 396.7 243.7 397.7 242.1 398.7 240.5 399.7 239.0 400.7 237.5 401.7 236.0 402.7 234.5 403.7 233.0 404.7 231.5 405.7 230.0 406.7 228.5 407.7 227.1 408.7 225.8 409.7 224.4 410.7 223.1 411.7 221.7 412.7 220.4 413.7 219.1 414.7 217.7 415.7 216.4 416.7 215.2 417.7 213.9 418.7 212.6 419.7 211.4 420.7 210.1 422.2 208.3 423.7 206.5 425.2 204.9 426.7 203.3 428.2 201.8 429.7 200.3 431.2 198.7 432.7 197.1 434.2 195.3 435.7 193.5 437.2 191.6 438.2 190.4 439.2 189.1 440.2 187.8 441.2 186.6 442.2 185.2 443.2 183.8 444.2 182.4 445.2 180.9 446.2 179.4 447.2 177.9 448.2 176.4 449.2 174.9 450.2 173.3 451.2 171.7 452.2 170.1 453.2 168.4 454.2 166.7 455.2 165.1 456.2 163.3 457.2 161.5 458.2 159.6 459.2 157.5 460.2 155.3 461.2 153.1 462.2 150.9 463.2 148.5 463.7 147.3M464.2 146.0h0M464.7 144.6h0M465.2 143.1h0M465.7 141.6h0M466.2 140.1h0M466.7 138.6h0M467.2 137.1h0M467.7 135.6h0M468.2 134.1h0M468.7 132.5h0M469.2 130.9h0M469.7 129.3h0M470.2 127.7h0M470.7 126.0h0M471.2 124.3h0M471.7 122.6h0M472.2 120.9h0M472.7 119.2h0M473.2 117.4h0M473.7 115.6h0M474.2 113.8h0M474.7 111.9h0M475.2 110.1h0M475.7 108.3h0M476.2 106.4h0M476.7 104.6h0M477.2 102.8h0M477.7 100.9h0M478.2 99.1h0M478.7 97.3h0M479.2 95.4h0M479.7 93.5h0M480.2 91.6h0M480.7 89.6h0M481.2 87.6h0M481.7 85.5h0M482.2 83.5h0M482.7 81.5h0"/>
<path d="M311.5 419.2 312.5 417.9 313.5 416.6 314.5 415.2 315.5 413.9 316.5 412.5 317.5 411.0 318.5 409.4 319.5 407.8 320.5 406.2 321.5 404.5 322.5 402.8 323.5 401.0 324.5 399.2 325.5 397.3 326.5 395.5 327.5 393.7 328.5 392.0 329.5 390.3 330.5 388.5 331.5 386.8 332.5 385.1 333.5 383.4 334.5 381.6 335.5 379.9 336.5 378.1 337.5 376.2 338.5 374.2 339.5 372.1 340.5 370.1 341.5 368.0 342.5 365.9 343.5 363.9 344.5 361.8 345.5 359.7 346.5 357.5 347.5 355.1M348.0 353.8h0M348.5 352.5h0M349.0 351.2h0M349.5 349.8h0M350.0 348.3h0M350.5 346.8h0M351.0 345.3h0M351.5 343.7h0M352.0 342.0h0M352.5 340.2h0M353.0 338.2h0M353.5 336.0h0M354.0 333.6h0M354.5 331.3h0M355.0 329.1h0M355.5 327.1h0M356.0 325.3h0M356.5 323.5h0M357.0 321.7h0M357.5 319.8h0M358.0 317.9h0M358.5 315.9h0M359.0 314.0h0M359.5 311.9h0M360.0 309.9h0M360.5 307.8h0M361.0 305.7h0M361.5 303.5h0M362.0 301.3h0M362.5 299.2h0M363.0 297.1h0M363.5 295.0h0M364.0 293.0h0M364.5 291.0h0M365.0 289.0h0M365.5 286.9h0M366.0 284.6h0M366.5 281.5h0M367.0 276.2h0M367.5 269.9h0M368.0 265.9h0M368.5 263.1h0M369.0 260.7h0M369.5 258.4h0M370.0 256.0h0M370.5 253.6h0M371.0 251.2h0M371.5 248.7h0M372.0 246.3h0M372.5 243.8h0M373.0 241.2h0M373.5 238.6h0M374.0 235.9h0M374.5 233.2h0M375.0 230.5h0M375.5 227.7h0M376.0 224.8h0M376.5 221.8h0M377.0 218.7h0M377.5 215.6h0M378.0 212.7h0M378.5 209.9h0M379.0 207.3h0M379.5 204.9h0M380.0 202.4h0M380.5 200.0h0M381.0 197.5h0M381.5 195.0h0M382.0 192.5h0M382.5 190.0h0M383.0 187.5h0M383.5 185.0h0M384.0 182.5h0M384.5 180.0h0M385.0 177.5h0M385.5 175.0h0M386.0 172.5h0M386.5 170.0h0M387.0 167.5h0M387.5 165.0h0M388.0 162.5h0M388.5 160.0h0M389.0 157.5h0M389.5 155.0h0M390.0 152.5h0M390.5 150.1h0M391.0 147.7h0M391.5 145.4h0M392.0 143.1h0M392.5 140.8h0M393.0 138.4h0M393.5 136.1h0M394.0 133.6h0M394.5 131.1h0M395.0 128.5h0M395.5 126.0h0M396.0 123.4h0M396.5 120.8h0"/>
<path d="M227.7 409.4 229.2 410.0 230.7 410.5 232.2 411.1 233.7 411.6 235.2 412.2 237.2 412.9 239.2 413.7 241.2 414.3 243.2 415.0 245.2 415.7 247.2 416.3 249.2 416.9 251.2 417.6 253.2 418.2 255.2 418.8 257.2 419.4 259.2 419.8 261.2 420.2 263.2 420.5 265.2 420.7 267.2 420.8 269.2 420.8 271.2 420.6 273.2 420.3 275.2 420.0 277.2 419.6 279.2 419.2 281.2 418.7 283.2 418.2 285.2 417.7 287.2 417.0 289.2 416.4 291.2 415.6 292.7 415.0 294.2 414.3 295.7 413.6 297.2 412.9 298.7 412.0 300.2 411.1 301.7 410.2 303.2 409.1 304.7 408.1 306.2 406.9 307.7 405.7 309.2 404.3 310.7 402.8 312.2 401.3 313.7 399.8 315.2 398.2 316.7 396.5 317.7 395.3 318.7 393.8 319.7 392.2 320.7 390.4 321.7 388.5 322.7 386.5 323.7 384.5 324.7 382.3 325.7 380.0 326.7 377.8 327.7 375.6 328.7 373.5 329.7 371.4 330.7 369.4 331.7 367.3 332.7 365.3 333.7 363.3 334.7 361.3 335.7 359.3 336.7 357.3 337.7 355.4 338.7 353.5 339.7 351.7 340.7 349.8 341.7 347.9 342.7 346.0 343.7 344.0 344.7 342.0 345.7 339.9 346.7 337.8 347.7 335.6 348.7 333.3 349.7 331.0 350.7 328.7 351.7 326.4 352.7 324.0 353.7 321.7 354.2 320.5M354.7 319.2h0M355.2 317.8h0M355.7 316.4h0M356.2 314.9h0M356.7 313.3h0M357.2 311.6h0M357.7 309.9h0M358.2 308.1h0M358.7 306.2h0M359.2 304.3h0M359.7 302.2h0M360.2 300.0h0M360.7 297.8h0M361.2 295.5h0M361.7 292.9h0M362.2 290.3h0M362.7 287.6h0M363.2 284.8h0M363.7 282.0h0M364.2 278.7h0M364.7 274.6h0M365.2 269.9h0M365.7 266.3h0M366.2 263.5h0M366.7 261.0h0M367.2 258.5h0M367.7 256.2h0M368.2 253.8h0M368.7 251.5h0M369.2 249.2h0M369.7 246.9h0M370.2 244.6h0M370.7 242.2h0M371.2 239.6h0M371.7 236.8h0M372.2 233.8h0M372.7 230.8h0M373.2 227.8h0M373.7 224.9h0M374.2 221.9h0M374.7 219.0h0M375.2 216.1h0M375.7 213.3h0M376.2 210.7h0M376.7 208.4h0M377.2 206.3h0M377.7 204.2h0M378.2 202.3h0M378.7 200.5h0M379.2 198.8h0M379.7 197.2h0M380.2 195.8h0M380.7 194.4h0M381.2 193.1 382.2 190.8 383.2 188.7 384.2 186.7 385.2 184.8 386.2 182.9 387.2 181.2 388.2 179.4 389.2 177.7 390.2 175.9 391.2 174.2 392.2 172.4 393.2 170.7 394.2 168.9 395.2 167.2 396.2 165.4 397.2 163.7 398.2 161.9 399.2 160.2 400.2 158.5 401.2 156.8 402.2 155.1 403.2 153.4 404.2 151.8"/>
<path d="M211.7 421.5 213.7 421.7 215.7 422.0 217.7 422.2 219.7 422.4 221.7 422.5 223.7 422.7 225.7 422.7 227.7 422.8 229.7 422.8 231.7 422.8 233.7 422.8 235.7 422.7 237.7 422.7 239.7 422.6 241.7 422.6 243.7 422.6 245.7 422.5 247.7 422.5 249.7 422.5 251.7 422.5 253.7 422.5 255.7 422.5 257.7 422.6 259.7 422.6 261.7 422.5 263.7 422.5 265.7 422.4 267.7 422.3 269.7 422.2 271.7 421.9 273.7 421.6 275.7 421.3 277.7 421.0 279.7 420.6 281.7 420.2 283.7 419.6 285.7 419.0 287.7 418.3 289.2 417.7 290.7 417.1 292.2 416.5 293.7 415.8 295.2 415.0 296.7 414.1 298.2 413.2 299.7 412.2 301.2 411.2 302.7 410.1 304.2 408.9 305.7 407.8 307.2 406.5 308.7 405.3 310.2 404.0 311.7 402.7 313.2 401.3 314.7 400.0 316.2 398.8 317.7 397.5 319.2 396.2 320.7 394.9 322.2 393.6 323.7 392.2 325.2 390.8 326.7 389.3 328.2 387.8 329.7 386.3 331.2 384.8 332.7 383.3 334.2 381.8 335.7 380.3 337.2 378.8 338.7 377.3 340.2 375.8 341.7 374.2 343.2 372.6 344.7 370.7 345.7 369.3 346.7 367.9 347.7 366.3 348.7 364.7 349.7 363.0 350.7 361.2 351.7 359.2 352.7 357.2 353.7 355.0 354.2 353.8M354.7 352.4h0M355.2 350.9h0M355.7 349.5h0M356.2 348.1h0M356.7 346.8 357.7 344.3M358.2 343.0h0M358.7 341.7h0M359.2 340.4h0M359.7 338.9h0M360.2 337.5h0M360.7 336.0h0M361.2 334.5h0M361.7 333.0h0M362.2 331.4h0M362.7 329.9h0M363.2 328.3h0M363.7 326.7h0M364.2 325.0h0M364.7 323.3h0M365.2 321.7h0M365.7 320.0h0M366.2 318.4h0M366.7 316.7h0M367.2 315.0h0M367.7 313.3h0M368.2 311.7h0M368.7 310.0h0M369.2 308.3h0M369.7 306.6h0M370.2 304.9h0M370.7 303.1h0M371.2 301.2h0M371.7 299.3h0M372.2 297.3h0M372.7 295.3h0M373.2 293.3h0M373.7 291.3h0M374.2 289.1h0M374.7 286.8h0M375.2 284.1h0M375.7 281.1h0M376.2 278.0h0M376.7 275.0h0M377.2 272.0h0M377.7 269.2h0M378.2 266.7h0M378.7 264.3h0M379.2 262.1h0M379.7 260.0h0M380.2 258.0h0M380.7 256.0h0M381.2 254.0h0M381.7 252.0h0M382.2 250.0h0M382.7 248.0h0M383.2 246.0h0M383.7 243.9h0M384.2 241.9h0M384.7 240.0h0M385.2 238.1h0M385.7 236.2h0M386.2 234.3h0M386.7 232.5h0M387.2 230.7h0M387.7 228.9h0M388.2 227.1h0M388.7 225.4h0M389.2 223.7h0M389.7 222.0h0M390.2 220.3h0M390.7 218.7h0M391.2 217.0h0M391.7 215.3h0M392.2 213.6h0M392.7 212.0h0M393.2 210.3h0M393.7 208.6h0M394.2 207.0h0M394.7 205.3h0M395.2 203.7h0M395.7 202.2h0M396.2 200.7h0M396.7 199.3h0M397.2 197.9h0M397.7 196.5h0M398.2 195.0h0M398.7 193.4h0M399.2 191.8h0M399.7 190.2h0M400.2 188.5h0M400.7 186.8h0M401.2 185.2h0M401.7 183.5h0M402.2 181.8h0M402.7 180.2h0M403.2 178.5h0M403.7 176.8h0M404.2 175.2h0M404.7 173.5h0M405.2 171.8h0M405.7 170.2h0M406.2 168.5h0M406.7 166.8h0M407.2 165.2h0M407.7 163.5h0M408.2 161.8h0M408.7 160.1h0M409.2 158.3h0M409.7 156.5h0M410.2 154.7h0M410.7 152.9h0M411.2 151.0h0M411.7 149.2h0M412.2 147.5h0M412.7 145.7h0M413.2 144.1h0M413.7 142.4h0M414.2 140.8h0M414.7 139.3h0M415.2 137.7h0"/>
<path d="M274.7 430.7 276.7 430.1 278.7 429.4 280.7 428.8 282.7 428.2 284.7 427.5 286.7 426.8 288.7 426.1 290.2 425.5 291.7 424.9 293.2 424.1 294.7 423.3 296.2 422.3 297.7 421.2 299.2 419.9 300.7 418.5 302.2 417.0 303.7 415.5 305.2 413.9 306.7 412.2 308.2 410.5 309.7 408.7 311.2 406.8 312.2 405.6 313.2 404.3 314.2 403.1 315.2 401.8 316.2 400.6 317.2 399.3 318.2 398.0 319.2 396.8 320.2 395.5 321.2 394.2 322.2 393.0 323.7 391.2 325.2 389.6 326.7 388.1 328.2 386.7 329.7 385.4 331.2 384.1 332.7 382.9 334.2 381.7 335.7 380.6 337.2 379.5 338.7 378.5 340.2 377.4 341.7 376.5 343.2 375.5 344.7 374.5 346.2 373.5 347.7 372.4 349.2 371.3 350.7 370.0 352.2 368.3 353.2 367.0 354.2 365.5 355.2 363.8 356.2 361.9 357.2 359.8 358.2 357.5M358.7 356.2h0M359.2 354.8h0M359.7 353.2h0M360.2 351.2h0M360.7 348.5h0M361.2 345.3h0M361.7 342.3h0M362.2 339.6h0M362.7 337.3h0M363.2 335.2h0M363.7 333.2h0M364.2 331.2h0M364.7 329.2h0M365.2 327.3h0M365.7 325.3h0M366.2 323.4h0M366.7 321.5h0M367.2 319.7h0M367.7 317.8h0M368.2 315.9h0M368.7 314.0h0M369.2 312.0h0M369.7 309.9h0M370.2 307.8h0M370.7 305.6h0M371.2 303.5h0M371.7 301.5h0M372.2 299.6h0M372.7 297.8h0M373.2 296.0h0M373.7 294.3h0M374.2 292.6h0M374.7 290.9h0M375.2 289.2h0M375.7 287.4h0M376.2 285.6h0M376.7 283.7h0M377.2 281.9h0M377.7 280.2h0M378.2 278.5h0M378.7 276.8h0M379.2 275.1h0M379.7 273.5h0M380.2 271.9h0M380.7 270.3h0M381.2 268.8h0M381.7 267.2h0M382.2 265.7h0M382.7 264.2h0M383.2 262.7h0M383.7 261.2h0M384.2 259.7h0M384.7 258.2h0M385.2 256.8h0M385.7 255.3h0M386.2 253.9h0M386.7 252.5h0M387.2 251.1h0M387.7 249.7h0M388.2 248.3h0M388.7 246.9h0M389.2 245.5h0M389.7 244.2h0M390.2 242.9h0M390.7 241.6 391.7 239.1 392.7 236.7 393.7 234.2 394.7 231.8 395.7 229.3 396.7 226.9 397.7 224.4 398.7 222.0 399.7 219.6 400.7 217.1 401.7 214.7 402.7 212.2 403.7 209.8 404.7 207.3 405.7 204.9 406.7 202.4 407.2 201.2M407.7 199.9h0M408.2 198.7h0M408.7 197.4h0M409.2 196.1h0M409.7 194.8h0M410.2 193.5h0M410.7 192.2h0M411.2 190.9h0M411.7 189.6h0M412.2 188.3h0M412.7 187.0h0M413.2 185.8h0M413.7 184.5h0M414.2 183.3 415.2 180.8 416.2 178.3 417.2 175.8 418.2 173.2 419.2 170.8 420.2 168.3 421.2 165.8 422.2 163.2 423.2 160.8 424.2 158.3 425.2 155.8 426.2 153.3 427.2 150.7 428.2 148.2 429.2 145.8 430.2 143.3 431.2 140.8 432.2 138.3"/>
<path d="M473.2 100.9 473.7 101.8 474.2 102.6 474.7 103.5 475.2 104.4 475.7 105.3 476.2 106.1 476.7 107.0 477.2 107.9 477.7 108.9 478.2 109.9 478.7 111.0 479.2 112.2 479.7 113.4 480.2 114.8 480.7 116.3 481.2 117.7 481.7 119.1 482.2 120.5 482.7 121.9 483.2 123.3 483.7 124.7 484.2 126.0 484.7 127.3 485.2 128.7 485.7 130.0 486.2 131.4 486.7 132.8 487.2 134.1 487.7 135.5 488.2 136.9 488.7 138.4 489.2 139.8 489.7 141.3 490.2 142.9 490.7 144.5 491.2 146.2 491.7 147.9 492.2 149.6 492.7 151.2 493.2 152.8 493.7 154.4 494.2 155.9 494.7 157.5 495.2 159.1 495.7 160.6 496.2 162.2 496.7 163.8 497.2 165.3 497.7 166.9 498.2 168.4 498.7 170.0 499.2 171.6 499.7 173.1 500.2 174.7 500.7 176.3 501.2 177.9 501.7 179.5 502.2 181.1 502.7 182.7 503.2 184.3 503.7 185.9 504.2 187.5 504.7 189.1 505.2 190.8 505.7 192.5 506.2 194.3 506.7 196.1 507.2 197.9 507.7 199.7 508.2 201.5 508.7 203.3 509.2 205.1 509.7 207.0 510.2 208.8 510.7 210.7 511.2 212.5 511.7 214.3 512.2 216.2 512.7 218.0 513.2 219.8 513.7 221.6 514.2 223.5 514.7 225.3 515.2 227.1 515.7 228.9 516.2 230.7 516.7 232.5 517.2 234.4 517.7 236.2 518.2 238.0 518.7 239.8 519.2 241.6 519.7 243.4 520.2 245.2 520.7 246.9 521.2 248.7 521.7 250.5 522.2 252.4 522.7 254.5M523.2 256.8h0M523.7 259.2h0M524.2 261.4 524.7 263.4 525.2 265.3 525.7 267.2 526.2 269.1 526.7 271.0 527.2 272.9 527.7 274.8 528.2 276.7 528.7 278.6 529.2 280.4 529.7 282.2 530.2 284.1 530.7 285.9 531.2 287.7 531.7 289.4 532.2 291.0 532.7 292.4 533.2 293.8 533.7 295.1 534.2 296.4 534.7 297.7 535.2 299.0 535.7 300.3 536.2 301.6 536.7 302.8 537.2 304.0 537.7 305.1 538.2 306.2 538.7 307.4 539.2 308.5 539.7 309.6 540.2 310.7 540.7 311.8 541.2 312.9 541.7 314.0 542.2 315.2 542.7 316.3 543.2 317.4 543.7 318.6 544.2 319.7 544.7 320.8 545.2 321.9 545.7 323.1 546.2 324.1 546.7 325.2 547.2 326.2 547.7 327.2 548.2 328.2 548.7 329.1 549.2 330.1 549.7 331.1 550.2 332.2 550.7 333.3 551.2 334.4 551.7 335.6 552.2 336.7 552.7 337.8 553.2 338.9 553.7 340.0 554.2 341.0 554.7 342.1 555.2 343.1 555.7 344.1 556.2 345.0 556.7 346.0 557.2 347.0 557.7 348.0 558.2 348.9 558.7 349.9 559.2 350.8 559.7 351.7 560.2 352.6 560.7 353.5 561.2 354.4 561.7 355.3 562.2 356.1 562.7 357.0 563.2 357.8 563.7 358.6 564.2 359.4 564.7 360.2 565.2 360.9 565.7 361.7 566.2 362.4 566.7 363.1 567.2 363.8 567.7 364.5 568.2 365.2 568.7 365.9 569.2 366.6 569.7 367.3 570.2 367.9 570.7 368.6 571.2 369.2 571.7 369.9 572.2 370.5 572.7 371.1 573.2 371.7 573.7 372.3 574.2 372.9 574.7 373.5 575.2 374.1 575.7 374.7 576.2 375.3 576.7 375.9 577.2 376.5 577.7 377.1 578.2 377.6 578.7 378.2 579.2 378.8 579.7 379.3 580.2 379.9 580.7 380.4 581.2 380.9 581.7 381.5 582.2 382.0 582.7 382.6 583.2 383.1 583.7 383.6 584.2 384.1 584.7 384.7 585.2 385.2 585.7 385.7 586.2 386.2 586.7 386.7 587.2 387.2 587.7 387.7 588.2 388.2 588.7 388.7 589.2 389.1 589.7 389.6 590.2 390.1 590.7 390.5 591.2 390.9 591.7 391.3 592.2 391.8 592.7 392.2 593.2 392.5 593.7 392.9 594.2 393.3 594.7 393.7 595.2 394.1 595.7 394.4 596.2 394.8 596.7 395.2 597.2 395.5 597.7 395.9 598.2 396.2 598.7 396.5 599.2 396.9 599.7 397.2 600.2 397.5 600.7 397.8 601.2 398.1 601.7 398.4 602.2 398.7 602.7 399.0 603.2 399.2 603.7 399.5 604.2 399.8 604.7 400.1 605.2 400.4 605.7 400.7 606.2 400.9 606.7 401.2 607.2 401.5 607.7 401.7 608.2 402.0 608.7 402.3 609.2 402.5 609.7 402.8 610.2 403.0 610.7 403.2 611.2 403.5 611.7 403.7 612.2 403.9 612.7 404.1 613.2 404.4 613.7 404.6 614.2 404.8 614.7 405.0 615.2 405.2 615.7 405.4 616.2 405.7 616.7 405.9 617.2 406.1 617.7 406.3 618.2 406.5 618.7 406.7 619.2 406.9 619.7 407.1 620.2 407.3 620.7 407.5 621.2 407.7 621.7 407.9 622.2 408.1 622.7 408.3 623.2 408.5 623.7 408.7 624.2 408.9 624.7 409.0 625.2 409.2 625.7 409.4 626.2 409.6 626.7 409.8 627.2 409.9 627.7 410.1 628.2 410.3 628.7 410.5 629.2 410.6 629.7 410.8 630.2 410.9 630.7 411.1 631.2 411.2 631.7 411.3 632.2 411.5 632.7 411.6 633.2 411.7 633.7 411.8 634.2 411.9 634.7 412.1 635.2 412.2 635.7 412.3 636.2 412.4 636.7 412.5 637.2 412.6 637.7 412.7 638.2 412.8 638.7 413.0 639.2 413.1 639.7 413.2 640.2 413.3 640.7 413.4 641.2 413.5 641.7 413.5 642.2 413.6 642.7 413.7 643.2 413.7 643.7 413.8 644.2 413.9 644.7 413.9 645.2 413.9 645.7 413.9 646.2 414.0 646.7 414.0 647.2 414.0 647.7 414.0 648.2 414.0 648.7 414.0 649.2 414.0 649.7 414.0 650.2 414.0 650.7 414.0 651.2 414.0 651.7 414.0 652.2 414.0 652.7 414.0 653.2 414.0 653.7 414.0 654.2 414.0 654.7 414.1 655.2 414.1 655.7 414.1 656.2 414.1 656.7 414.2 657.2 414.2 657.7 414.3 658.2 414.3 658.7 414.4 659.2 414.4 659.7 414.5 660.2 414.6 660.7 414.7 661.2 414.8 661.7 414.8 662.2 414.9 662.7 415.0 663.2 415.1 663.7 415.2 664.2 415.3 664.7 415.4 665.2 415.6 665.7 415.7 666.2 415.8 666.7 416.1 667.2 416.2 667.7 416.4 668.2 416.5 668.7 416.7 669.2 417.1 669.7 417.2 670.2 417.6 670.7 417.7 671.2 418.1 671.7 418.3 672.2 418.6 672.7 418.9 673.2 419.2 673.7 419.4 674.2 419.7 674.7 420.1 675.2 420.2 675.7 420.8 676.2 420.9 676.7 421.3 677.2 421.6 677.7 421.9 678.2 422.5 678.7 422.6 679.2 422.8 679.7 423.3 680.2 423.7 680.7 424.4 681.2 424.5 681.7 425.0 682.2 425.1 682.7 425.6 683.2 426.0 683.7 426.5 684.2 426.4 684.7 426.9 685.2 427.1 685.7 427.2 686.2 427.6 686.7 427.7 687.2 427.5 687.7 428.3 688.2 428.4 688.7 428.4 689.2 428.4 689.7 429.1 690.2 429.0 690.7 429.2 691.2 429.4 691.7 429.1 692.2 429.5 692.7 429.4 693.2 429.5 693.7 429.6 694.2 429.7 694.7 430.0 695.2 429.9 695.7 429.9 696.2 429.9 696.7 430.1 697.2 429.8 697.7 429.9 698.2 430.1 698.7 430.0 699.2 430.1 699.7 429.9 700.2 430.6 700.7 430.5 701.2 430.2 701.7 430.0 702.2 430.7 702.7 430.1 703.2 430.0 703.7 430.0 704.2 430.0 704.7 430.3 705.2 429.9 705.7 430.5 706.2 429.5 706.7 430.0 707.2 429.4 707.7 430.3 708.2 429.5 708.7 429.6 709.2 429.8 709.7 429.9 710.2 429.1 710.7 429.3 711.2 428.8 711.7 429.3 712.2 429.1 712.7 429.0 713.2 428.8 713.7 428.9 714.2 428.7 714.7 429.1 715.2 429.4 715.7 428.0 716.2 428.6 716.7 428.4 717.2 428.7 717.7 428.1 718.2 428.3 718.7 427.9 719.2 428.5 719.7 428.2 720.2 428.1 720.7 428.2 721.2 427.9 721.7 427.3 722.2 428.1 722.7 427.9 723.2 427.6 723.7 428.0 724.2 428.1 724.7 427.0 725.2 427.1 725.7 427.9 726.2 427.8 726.7 426.9 727.2 426.6 727.7 426.7 728.2 426.7 728.7 426.1 729.2 426.6 729.7 426.0 730.2 425.9 730.7 426.6 731.2 425.9 731.7 426.0 732.2 426.1 732.7 426.1 733.2 425.5 733.7 425.5 734.2 425.1 734.7 426.1 735.2 425.6 735.7 424.8 736.2 425.2 736.7 425.5 737.2 425.3 737.7 425.9 738.2 425.7 738.7 425.0 739.2 425.2 739.7 424.8 740.2 425.5 740.7 425.6 741.2 426.7 741.7 425.8 742.2 425.1 742.7 425.8 743.2 426.3 743.7 425.9 744.2 426.3 744.7 426.7 745.2 427.1 745.7 427.2 746.2 427.1 746.7 428.0 747.2 427.7 747.7 427.9 748.2 427.8 748.7 428.2 749.2 429.0 749.7 428.3 750.2 429.2 750.7 429.7 751.2 429.5 751.7 429.9 752.2 429.6 752.7 430.8 753.2 430.8 753.7 430.6 754.2 430.0 754.7 430.4 755.2 431.3 755.7 431.7"/>
<path d="M490.0 117.7 490.5 119.2 491.0 120.6 491.5 122.1 492.0 123.5 492.5 125.0 493.0 126.4 493.5 127.9 494.0 129.4 494.5 130.9 495.0 132.3 495.5 133.8 496.0 135.3 496.5 136.8 497.0 138.3 497.5 139.8 498.0 141.3 498.5 142.8 499.0 144.4 499.5 146.0 500.0 147.7 500.5 149.4 501.0 151.2 501.5 153.1 502.0 155.0 502.5 156.9 503.0 158.8 503.5 160.7 504.0 162.6 504.5 164.4 505.0 166.2 505.5 168.1 506.0 169.9 506.5 171.8 507.0 173.7 507.5 175.5 508.0 177.4 508.5 179.3 509.0 181.3 509.5 183.2 510.0 185.1 510.5 187.0 511.0 188.9 511.5 190.8 512.0 192.7 512.5 194.7 513.0 196.7 513.5 198.6 514.0 200.6 514.5 202.7M515.0 205.0h0M515.5 207.4h0M516.0 210.0h0M516.5 212.6h0M517.0 215.2h0M517.5 218.0h0M518.0 220.9h0M518.5 223.9h0M519.0 226.8h0M519.5 229.7h0M520.0 232.4h0M520.5 235.0h0M521.0 237.6h0M521.5 239.9 522.0 242.0 522.5 244.1 523.0 246.0 523.5 248.1M524.0 250.2h0M524.5 252.6h0M525.0 255.0h0M525.5 257.5h0M526.0 259.9h0M526.5 262.3h0M527.0 264.7h0M527.5 267.1h0M528.0 269.4h0M528.5 271.7h0M529.0 274.0 529.5 276.2 530.0 278.1 530.5 280.0 531.0 281.9 531.5 283.7 532.0 285.5 532.5 287.3 533.0 289.0 533.5 290.6 534.0 292.0 534.5 293.3 535.0 294.6 535.5 295.8 536.0 297.1 536.5 298.3 537.0 299.5 537.5 300.7 538.0 301.9 538.5 303.0 539.0 304.1 539.5 305.1 540.0 306.1 540.5 307.2 541.0 308.2 541.5 309.2 542.0 310.2 542.5 311.2 543.0 312.2 543.5 313.2 544.0 314.2 544.5 315.1 545.0 316.0 545.5 316.9 546.0 317.7 546.5 318.6 547.0 319.4 547.5 320.3 548.0 321.1 548.5 322.0 549.0 322.8 549.5 323.6 550.0 324.5 550.5 325.3 551.0 326.2 551.5 327.0 552.0 327.8 552.5 328.7 553.0 329.5 553.5 330.4 554.0 331.2 554.5 332.1 555.0 332.9 555.5 333.8 556.0 334.7 556.5 335.5 557.0 336.4 557.5 337.2 558.0 338.1 558.5 339.0 559.0 339.9 559.5 340.7 560.0 341.6 560.5 342.5 561.0 343.4 561.5 344.3 562.0 345.1 562.5 346.0 563.0 346.9 563.5 347.7 564.0 348.5 564.5 349.3 565.0 350.0 565.5 350.7 566.0 351.5 566.5 352.2 567.0 352.9 567.5 353.5 568.0 354.2 568.5 354.9 569.0 355.6 569.5 356.2 570.0 356.8 570.5 357.4 571.0 357.9 571.5 358.5 572.0 358.9 572.5 359.4 573.0 359.9 573.5 360.3 574.0 360.7 574.5 361.2 575.0 361.6 575.5 362.0 576.0 362.4 576.5 362.9 577.0 363.3 577.5 363.7 578.0 364.1 578.5 364.5 579.0 364.9 579.5 365.4 580.0 365.8 580.5 366.2 581.0 366.6 581.5 367.0 582.0 367.4 582.5 367.8 583.0 368.2 583.5 368.7 584.0 369.1 584.5 369.5 585.0 369.9 585.5 370.3 586.0 370.6 586.5 371.0 587.0 371.4 587.5 371.8 588.0 372.1 588.5 372.5 589.0 372.8 589.5 373.2 590.0 373.5 590.5 373.9 591.0 374.2 591.5 374.5 592.0 374.9 592.5 375.2 593.0 375.5 593.5 375.9 594.0 376.2 594.5 376.5 595.0 376.9 595.5 377.2 596.0 377.5 596.5 377.9 597.0 378.2 597.5 378.5 598.0 378.8 598.5 379.2 599.0 379.5 599.5 379.8 600.0 380.1 600.5 380.4 601.0 380.8 601.5 381.1 602.0 381.4 602.5 381.7 603.0 382.1 603.5 382.4 604.0 382.7 604.5 383.0 605.0 383.3 605.5 383.7 606.0 384.0 606.5 384.3 607.0 384.6 607.5 385.0 608.0 385.3 608.5 385.6 609.0 385.9 609.5 386.3 610.0 386.6 610.5 386.9 611.0 387.2 611.5 387.6 612.0 387.9 612.5 388.3 613.0 388.6 613.5 389.0 614.0 389.3 614.5 389.7 615.0 390.1 615.5 390.5 616.0 390.8 616.5 391.2 617.0 391.6 617.5 392.0 618.0 392.4 618.5 392.8 619.0 393.2 619.5 393.5 620.0 393.9 620.5 394.3 621.0 394.7 621.5 395.0 622.0 395.4 622.5 395.7 623.0 396.0 623.5 396.4 624.0 396.7 624.5 397.0 625.0 397.3 625.5 397.6 626.0 397.9 626.5 398.2 627.0 398.4 627.5 398.7 628.0 399.0 628.5 399.2 629.0 399.5 629.5 399.7 630.0 400.0 630.5 400.3 631.0 400.5 631.5 400.8 632.0 401.0 632.5 401.3 633.0 401.5 633.5 401.8 634.0 402.0 634.5 402.3 635.0 402.5 635.5 402.8 636.0 403.0 636.5 403.3 637.0 403.5 637.5 403.8 638.0 404.0 638.5 404.3 639.0 404.5 639.5 404.8 640.0 405.0 640.5 405.3 641.0 405.5 641.5 405.7 642.0 406.0 642.5 406.2 643.0 406.4 643.5 406.6 644.0 406.8 644.5 407.0 645.0 407.1 645.5 407.3 646.0 407.5 646.5 407.6 647.0 407.8 647.5 407.9 648.0 408.0 648.5 408.2 649.0 408.3 649.5 408.4 650.0 408.5 650.5 408.6 651.0 408.7 651.5 408.8 652.0 408.9 652.5 409.0 653.0 409.1 653.5 409.1 654.0 409.2 654.5 409.2 655.0 409.3 655.5 409.3 656.0 409.4 656.5 409.4 657.0 409.4 657.5 409.5 658.0 409.5 658.5 409.5 659.0 409.5 659.5 409.5 660.0 409.6 660.5 409.6 661.0 409.6 661.5 409.6 662.0 409.6 662.5 409.6 663.0 409.6 663.5 409.6 664.0 409.6 664.5 409.6 665.0 409.6 665.5 409.6 666.0 409.6 666.5 409.7 667.0 409.7 667.5 409.7 668.0 409.7 668.5 409.6 669.0 409.6 669.5 409.6 670.0 409.6 670.5 409.6 671.0 409.6 671.5 409.6 672.0 409.6 672.5 409.6 673.0 409.6 673.5 409.5 674.0 409.5 674.5 409.5 675.0 409.5 675.5 409.5 676.0 409.5 676.5 409.5 677.0 409.4 677.5 409.4 678.0 409.4 678.5 409.4 679.0 409.4 679.5 409.4 680.0 409.4 680.5 409.4 681.0 409.3 681.5 409.3 682.0 409.3 682.5 409.3 683.0 409.3 683.5 409.3 684.0 409.3 684.5 409.3 685.0 409.3 685.5 409.3 686.0 409.3 686.5 409.3 687.0 409.3 687.5 409.3 688.0 409.3 688.5 409.4 689.0 409.4 689.5 409.4 690.0 409.4 690.5 409.4 691.0 409.4 691.5 409.4 692.0 409.4 692.5 409.4 693.0 409.4 693.5 409.4 694.0 409.4 694.5 409.4 695.0 409.5 695.5 409.5 696.0 409.5 696.5 409.5 697.0 409.5 697.5 409.6 698.0 409.6 698.5 409.6 699.0 409.7 699.5 409.7 700.0 409.7 700.5 409.8 701.0 409.8 701.5 409.9 702.0 409.9 702.5 410.0 703.0 410.0 703.5 410.1 704.0 410.2 704.5 410.2 705.0 410.4 705.5 410.6 706.0 410.6 706.5 410.9 707.0 411.0 707.5 410.8 708.0 411.2 708.5 411.2 709.0 411.3 709.5 411.5 710.0 411.3 710.5 411.4 711.0 411.4 711.5 411.4 712.0 411.6 712.5 411.4 713.0 411.4 713.5 411.7 714.0 411.6 714.5 411.6 715.0 411.1 715.5 411.3 716.0 411.3 716.5 411.3 717.0 411.1 717.5 411.4 718.0 411.1 718.5 411.0 719.0 411.0 719.5 411.0 720.0 410.6 720.5 411.0 721.0 410.7 721.5 410.5 722.0 410.3 722.5 410.4 723.0 410.4 723.5 410.2 724.0 409.9 724.5 409.9 725.0 409.4 725.5 409.6 726.0 408.9 726.5 408.0 727.0 408.9 727.5 408.2 728.0 407.5 728.5 407.6 729.0 407.1 729.5 408.0 730.0 407.1 730.5 406.0 731.0 406.6 731.5 405.9 732.0 406.6 732.5 405.2 733.0 404.4 733.5 405.1 734.0 404.7 734.5 404.4 735.0 403.5 735.5 404.2 736.0 404.5 736.5 402.8 737.0 403.7 737.5 402.8 738.0 403.7 738.5 402.6 739.0 402.1 739.5 402.3 740.0 401.8 740.5 401.0 741.0 401.3 741.5 400.5 742.0 399.7 742.5 401.0 743.0 399.8 743.5 399.5 744.0 399.7 744.5 398.8 745.0 398.8 745.5 399.1 746.0 399.0 746.5 399.4 747.0 399.9 747.5 399.3 748.0 400.0 748.5 400.3 749.0 399.9 749.5 400.8 750.0 400.7 750.5 401.9 751.0 402.2 751.5 402.5 752.0 402.5 752.5 403.6 753.0 403.8 753.5 404.8 754.0 404.9 754.5 405.0 755.0 406.1"/>
<path d="M525.0 324.3 525.5 325.3 526.0 326.2 526.5 327.2 527.0 328.1 527.5 329.1 528.0 330.0 528.5 331.0 529.0 332.0 529.5 333.0 530.0 334.0 530.5 335.0 531.0 335.9 531.5 336.9 532.0 337.8 532.5 338.7 533.0 339.6 533.5 340.5 534.0 341.3 534.5 342.1 535.0 342.9 535.5 343.6 536.0 344.3 536.5 344.9 537.0 345.5 537.5 346.1 538.0 346.6 538.5 347.1 539.0 347.6 539.5 348.1 540.0 348.7 540.5 349.2 541.0 349.7 541.5 350.2 542.0 350.8 542.5 351.4 543.0 352.0 543.5 352.6 544.0 353.2 544.5 353.9 545.0 354.6 545.5 355.3 546.0 356.0 546.5 356.7 547.0 357.4 547.5 358.1 548.0 358.8 548.5 359.4 549.0 360.0 549.5 360.7 550.0 361.2 550.5 361.8 551.0 362.3 551.5 362.9 552.0 363.4 552.5 363.9 553.0 364.4 553.5 364.9 554.0 365.4 554.5 365.9 555.0 366.4 555.5 366.9 556.0 367.4 556.5 367.9 557.0 368.4 557.5 368.9 558.0 369.4 558.5 369.9 559.0 370.4 559.5 370.9 560.0 371.4 560.5 371.9 561.0 372.4 561.5 372.9 562.0 373.4 562.5 373.9 563.0 374.4 563.5 374.9 564.0 375.3 564.5 375.8 565.0 376.3 565.5 376.7 566.0 377.1 566.5 377.6 567.0 378.0 567.5 378.4 568.0 378.8 568.5 379.2 569.0 379.6 569.5 380.0 570.0 380.4 570.5 380.7 571.0 381.1 571.5 381.5 572.0 381.8 572.5 382.2 573.0 382.5 573.5 382.8 574.0 383.1 574.5 383.4 575.0 383.7 575.5 384.0 576.0 384.3 576.5 384.6 577.0 384.9 577.5 385.2 578.0 385.5 578.5 385.8 579.0 386.1 579.5 386.5 580.0 386.8 580.5 387.1 581.0 387.4 581.5 387.7 582.0 388.0 582.5 388.4 583.0 388.7 583.5 389.0 584.0 389.3 584.5 389.7 585.0 390.0 585.5 390.3 586.0 390.7 586.5 391.0 587.0 391.3 587.5 391.6 588.0 391.9 588.5 392.2 589.0 392.5 589.5 392.9 590.0 393.2 590.5 393.5 591.0 393.8 591.5 394.0 592.0 394.3 592.5 394.6 593.0 394.9 593.5 395.2 594.0 395.5 594.5 395.8 595.0 396.1 595.5 396.3 596.0 396.6 596.5 396.9 597.0 397.1 597.5 397.4 598.0 397.7 598.5 397.9 599.0 398.2 599.5 398.4 600.0 398.7 600.5 398.9 601.0 399.2 601.5 399.4 602.0 399.7 602.5 399.9 603.0 400.2 603.5 400.4 604.0 400.7 604.5 400.9 605.0 401.2 605.5 401.4 606.0 401.7 606.5 401.9 607.0 402.2 607.5 402.4 608.0 402.7 608.5 402.9 609.0 403.2 609.5 403.4 610.0 403.7 610.5 403.9 611.0 404.2 611.5 404.4 612.0 404.7 612.5 404.9 613.0 405.2 613.5 405.4 614.0 405.7 614.5 405.9 615.0 406.2 615.5 406.5 616.0 406.7 616.5 407.0 617.0 407.3 617.5 407.5 618.0 407.8 618.5 408.1 619.0 408.3 619.5 408.6 620.0 408.8 620.5 409.1 621.0 409.3 621.5 409.6 622.0 409.8 622.5 410.0 623.0 410.2 623.5 410.4 624.0 410.6 624.5 410.8 625.0 411.0 625.5 411.2 626.0 411.3 626.5 411.5 627.0 411.7 627.5 411.8 628.0 412.0 628.5 412.1 629.0 412.2 629.5 412.4 630.0 412.5 630.5 412.6 631.0 412.7 631.5 412.8 632.0 412.9 632.5 413.0 633.0 413.1 633.5 413.2 634.0 413.2 634.5 413.3 635.0 413.4 635.5 413.4 636.0 413.5 636.5 413.6 637.0 413.6 637.5 413.7 638.0 413.8 638.5 413.8 639.0 413.9 639.5 414.0 640.0 414.0 640.5 414.1 641.0 414.2 641.5 414.2 642.0 414.3 642.5 414.3 643.0 414.4 643.5 414.4 644.0 414.5 644.5 414.5 645.0 414.5 645.5 414.6 646.0 414.6 646.5 414.6 647.0 414.6 647.5 414.7 648.0 414.7 648.5 414.7 649.0 414.7 649.5 414.7 650.0 414.8 650.5 414.8 651.0 414.8 651.5 414.8 652.0 414.8 652.5 414.8 653.0 414.9 653.5 414.9 654.0 414.9 654.5 414.9 655.0 415.0 655.5 415.0 656.0 415.0 656.5 415.1 657.0 415.1 657.5 415.2 658.0 415.2 658.5 415.3 659.0 415.3 659.5 415.4 660.0 415.4 660.5 415.5 661.0 415.6 661.5 415.6 662.0 415.7 662.5 415.8 663.0 415.9 663.5 416.0 664.0 416.1 664.5 416.3 665.0 416.5 665.5 416.6 666.0 416.9 666.5 417.0 667.0 417.3 667.5 417.5 668.0 417.8 668.5 417.9 669.0 418.2 669.5 418.7 670.0 419.0 670.5 419.3 671.0 419.6 671.5 419.9 672.0 420.2 672.5 420.5 673.0 421.0 673.5 421.3 674.0 421.6 674.5 421.9 675.0 422.3 675.5 422.7 676.0 422.9 676.5 423.5 677.0 423.7 677.5 424.0 678.0 424.6 678.5 424.9 679.0 425.1 679.5 425.6 680.0 425.8 680.5 426.2 681.0 426.4 681.5 427.3 682.0 427.2 682.5 428.0 683.0 428.2 683.5 428.6 684.0 429.2 684.5 429.6 685.0 430.1 685.5 430.7 686.0 430.9 686.5 431.4 687.0 431.6 687.5 432.2 688.0 432.5 688.5 432.8 689.0 433.3 689.5 433.7 690.0 434.1 690.5 434.5 691.0 434.7 691.5 435.1 692.0 435.7 692.5 435.6 693.0 436.1 693.5 437.0 694.0 436.3 694.5 437.1 695.0 437.7 695.5 437.4 696.0 438.7 696.5 437.7 697.0 438.9 697.5 439.2 698.0 439.3 698.5 439.2 699.0 439.5 699.5 439.4 700.0 440.0 700.5 439.7 701.0 440.0 701.5 440.5 702.0 440.0 702.5 440.3 703.0 440.5 703.5 440.1 704.0 440.9 704.5 440.7 705.0 440.2 705.5 440.7 706.0 440.6 706.5 440.6 707.0 440.9 707.5 440.7 708.0 441.3 708.5 440.8 709.0 441.4 709.5 441.1 710.0 441.4 710.5 441.0 711.0 441.0 711.5 440.8 712.0 441.5 712.5 441.6 713.0 442.1 713.5 441.8 714.0 441.5 714.5 441.4 715.0 441.6 715.5 441.5 716.0 442.1 716.5 442.0 717.0 441.3 717.5 441.4 718.0 442.3 718.5 441.9 719.0 441.7 719.5 442.3 720.0 441.7 720.5 441.8 721.0 441.8 721.5 441.2 722.0 442.3 722.5 441.5 723.0 441.8 723.5 441.7 724.0 442.2 724.5 441.9 725.0 441.8 725.5 441.0 726.0 441.6 726.5 440.9 727.0 441.5 727.5 441.4 728.0 441.1 728.5 441.8 729.0 441.0 729.5 440.9 730.0 440.5 730.5 440.2 731.0 440.5 731.5 440.4 732.0 439.2 732.5 439.9 733.0 439.5 733.5 439.4 734.0 439.0 734.5 438.1 735.0 437.9 735.5 438.9 736.0 438.0 736.5 437.2 737.0 437.7 737.5 437.2 738.0 436.4 738.5 436.0 739.0 436.1 739.5 436.7 740.0 436.4 740.5 436.2 741.0 436.3 741.5 436.2 742.0 435.1 742.5 435.7 743.0 435.4 743.5 435.1 744.0 435.3 744.5 435.4 745.0 435.2 745.5 434.7 746.0 435.0 746.5 435.9 747.0 434.6 747.5 434.2 748.0 434.9 748.5 434.9 749.0 434.7 749.5 434.0 750.0 434.6 750.5 433.8 751.0 433.5 751.5 433.5 752.0 433.5 752.5 433.6 753.0 433.4 753.5 432.9 754.0 433.0 754.5 432.5 755.0 432.5 755.5 431.3"/>
<path d="M584.7 351.0 585.7 352.5 586.7 354.0 587.7 355.5 588.7 357.0 589.7 358.3 590.7 359.6 592.2 361.3 593.7 363.0 595.2 364.5 596.7 366.0 598.2 367.5 599.7 369.1 601.2 370.7 602.7 372.3 604.2 373.9 605.7 375.6 607.2 377.4 608.7 379.1 610.2 380.9 611.7 382.7 613.2 384.4 614.7 386.0 616.2 387.5 617.7 389.1 619.2 390.6 620.7 392.2 622.2 393.8 623.7 395.3 625.2 396.6 626.7 397.8 628.2 399.0 629.7 400.1 631.2 401.1 632.7 402.1 634.2 403.0 635.7 403.9 637.2 404.7 638.7 405.5 640.2 406.3 641.7 406.9 643.2 407.6 644.7 408.1 646.2 408.7 648.2 409.4 650.2 409.9 652.2 410.4 654.2 410.7 656.2 411.0 658.2 411.1 660.2 411.3 662.2 411.3 664.2 411.4 666.2 411.5 668.2 411.5 670.2 411.5 672.2 411.5 674.2 411.6 676.2 411.7 678.2 412.0 680.2 412.2 682.2 412.5 684.2 412.8 686.2 413.2 688.2 413.6 690.2 414.1 692.2 414.5 694.2 414.9 696.2 415.1 698.2 415.2 700.2 415.2 702.2 415.0 704.2 414.7 706.2 414.2 708.2 413.7"/>
<path d="M608.0 371.3 609.5 373.0 611.0 374.7 612.5 376.4 614.0 378.1 615.5 379.7 617.0 381.4 618.5 383.0 620.0 384.6 621.5 386.2 623.0 387.7 624.5 389.1 626.0 390.6 627.5 392.0 629.0 393.4 630.5 394.6 632.0 395.8 633.5 396.9 635.0 398.0 636.5 399.0 638.0 400.0 639.5 400.9 641.0 401.8 642.5 402.6 644.0 403.4 645.5 404.0 647.5 404.6 649.5 405.2 651.5 405.6 653.5 405.9 655.5 406.0 657.5 406.1 659.5 406.1 661.5 406.0 663.5 405.7 665.5 405.3 667.5 404.7 669.5 404.1 671.5 403.5 673.5 402.8 675.5 402.2 677.5 401.6 679.5 401.2 681.5 400.9 683.5 400.6 685.5 400.4 687.5 400.3 689.5 400.4 691.5 400.6 693.5 401.0 695.5 401.5 697.5 402.0 699.5 402.7 700.5 403.0"/>
<path d="M573.2 413.2 573.7 413.5 574.2 413.9 574.7 414.2 575.2 414.5 575.7 414.8 576.2 415.2 576.7 415.5 577.2 415.8 577.7 416.2 578.2 416.5 578.7 416.8 579.2 417.2 579.7 417.5 580.2 417.8 580.7 418.1 581.2 418.4 581.7 418.8 582.2 419.0 582.7 419.3 583.2 419.6 583.7 419.9 584.2 420.2 584.7 420.4 585.2 420.7 585.7 421.0 586.2 421.3 586.7 421.5 587.2 421.8 587.7 422.1 588.2 422.3 588.7 422.6 589.2 422.9 589.7 423.1 590.2 423.4 590.7 423.7 591.2 424.0 591.7 424.2 592.2 424.5 592.7 424.8 593.2 425.1 593.7 425.4 594.2 425.6 594.7 425.9 595.2 426.2 595.7 426.5 596.2 426.7 596.7 427.0 597.2 427.3 597.7 427.6 598.2 427.9 598.7 428.1 599.2 428.4 599.7 428.7 600.2 429.0 600.7 429.3 601.2 429.5 601.7 429.8 602.2 430.1 602.7 430.3 603.2 430.6 603.7 430.9 604.2 431.1 604.7 431.4 605.2 431.6 605.7 431.9 606.2 432.1 606.7 432.4 607.2 432.6 607.7 432.9 608.2 433.1 608.7 433.4 609.2 433.6 609.7 433.9 610.2 434.1 610.7 434.3 611.2 434.6 611.7 434.8 612.2 435.1 612.7 435.3 613.2 435.6 613.7 435.8 614.2 436.1 614.7 436.3 615.2 436.5 615.7 436.8 616.2 437.0 616.7 437.2 617.2 437.4 617.7 437.6 618.2 437.8 618.7 438.0 619.2 438.2 619.7 438.4 620.2 438.5 620.7 438.7 621.2 438.9 621.7 439.1 622.2 439.2 622.7 439.4 623.2 439.6 623.7 439.8 624.2 440.0 624.7 440.1 625.2 440.3 625.7 440.5 626.2 440.7 626.7 440.8 627.2 441.0 627.7 441.2 628.2 441.3 628.7 441.5 629.2 441.7 629.7 441.8 630.2 441.9 630.7 442.1 631.2 442.2 631.7 442.3 632.2 442.4 632.7 442.5 633.2 442.6 633.7 442.7 634.2 442.8 634.7 442.9 635.2 443.0 635.7 443.1 636.2 443.2 636.7 443.3 637.2 443.3 637.7 443.4 638.2 443.5 638.7 443.6 639.2 443.7 639.7 443.8 640.2 443.9 640.7 443.9 641.2 444.0 641.7 444.1 642.2 444.1 642.7 444.2 643.2 444.2 643.7 444.3 644.2 444.3 644.7 444.4 645.2 444.4 645.7 444.5 646.2 444.5 646.7 444.6 647.2 444.6 647.7 444.7 648.2 444.7 648.7 444.8 649.2 444.8 649.7 444.8 650.2 444.9 650.7 444.9 651.2 444.9 651.7 444.9 652.2 445.0 652.7 445.0 653.2 445.0 653.7 445.0 654.2 445.0 654.7 445.0 655.2 445.0 655.7 445.0 656.2 445.0 656.7 445.0 657.2 445.0 657.7 445.0 658.2 445.0 658.7 445.0 659.2 445.0 659.7 445.0 660.2 445.0 660.7 445.0 661.2 445.0 661.7 445.0 662.2 445.0 662.7 445.0 663.2 445.0 663.7 445.0 664.2 445.0 664.7 445.1 665.2 445.1 665.7 445.1 666.2 445.2 666.7 445.2 667.2 445.2 667.7 445.3 668.2 445.3 668.7 445.4 669.2 445.4 669.7 445.5 670.2 445.5 670.7 445.6 671.2 445.7 671.7 445.8 672.2 445.9 672.7 446.0 673.2 446.2 673.7 446.4 674.2 446.5 674.7 446.6 675.2 446.8 675.7 447.0 676.2 447.1 676.7 447.4 677.2 447.6 677.7 447.6 678.2 448.0 678.7 448.2 679.2 448.4 679.7 448.4 680.2 448.8 680.7 448.8 681.2 448.9 681.7 449.1 682.2 449.4 682.7 449.7 683.2 449.9 683.7 449.9 684.2 449.9 684.7 450.1 685.2 450.2 685.7 450.5 686.2 450.4 686.7 450.9 687.2 451.2 687.7 451.2 688.2 451.5 688.7 451.4 689.2 451.4 689.7 451.8 690.2 452.3 690.7 452.5 691.2 452.3 691.7 452.9 692.2 452.7 692.7 453.3 693.2 453.2 693.7 453.1 694.2 453.6 694.7 453.4 695.2 453.5 695.7 453.5 696.2 454.1 696.7 454.2 697.2 454.3 697.7 454.4 698.2 455.1 698.7 454.7 699.2 454.7 699.7 455.5 700.2 455.7 700.7 455.5 701.2 454.9 701.7 455.4 702.2 455.9 702.7 455.8 703.2 456.5 703.7 455.4 704.2 456.2 704.7 455.8 705.2 456.6 705.7 456.0 706.2 456.4 706.7 455.7 707.2 455.3 707.7 455.3 708.2 455.4 708.7 455.1 709.2 455.9 709.7 455.9 710.2 455.2 710.7 454.5 711.2 454.7 711.7 454.2 712.2 455.0 712.7 454.2 713.2 454.1 713.7 453.5 714.2 452.5 714.7 452.8 715.2 452.5 715.7 452.9 716.2 452.6 716.7 452.1 717.2 452.1 717.7 452.9 718.2 451.7 718.7 451.6 719.2 451.9 719.7 451.7 720.2 451.8 720.7 452.1 721.2 452.8 721.7 451.2 722.2 452.1 722.7 452.2 723.2 452.3 723.7 452.4 724.2 452.5 724.7 453.3 725.2 452.7 725.7 453.0 726.2 453.2 726.7 453.3 727.2 453.2 727.7 453.7 728.2 453.2 728.7 453.3 729.2 453.0 729.7 452.5 730.2 452.5 730.7 452.2 731.2 452.6 731.7 452.1 732.2 451.8 732.7 452.2 733.2 452.2 733.7 451.0 734.2 452.4 734.7 451.4 735.2 451.2 735.7 451.6 736.2 451.0 736.7 450.6 737.2 451.7 737.7 450.2 738.2 450.6 738.7 451.0 739.2 450.1 739.7 450.6 740.2 450.8 740.7 451.7 741.2 450.2 741.7 450.5 742.2 450.6 742.7 450.1 743.2 449.3 743.7 449.8 744.2 449.4 744.7 449.2 745.2 449.2 745.7 448.9 746.2 448.4 746.7 448.1 747.2 447.2 747.7 447.5 748.2 447.5 748.7 447.0 749.2 447.2 749.7 446.7 750.2 447.8 750.7 448.1 751.2 447.0 751.7 447.5 752.2 447.3 752.7 448.1 753.2 447.8 753.7 447.7 754.2 447.7 754.7 447.9 755.2 447.5 755.7 448.3"/>
<path d="M755.7 417.0 L755.7 421.7" stroke-width="2.0" stroke-opacity="0.7"/>
<path d="M90.8 440.6 91.3 440.5 91.8 439.5 92.3 439.3 92.8 437.9 93.3 437.7 93.8 435.8 94.3 436.0 94.8 434.9 95.3 434.5 95.8 433.8 96.3 433.6M96.8 430.7 97.3 430.6M97.8 428.2 98.3 428.3M98.8 425.3 99.3 424.6 99.8 423.3 100.3 424.8 100.8 422.8 101.3 423.2 101.8 422.5 102.3 421.4 102.8 421.8M103.3 418.9h0M103.8 416.0 104.3 416.0 104.8 414.6 105.3 414.1 105.8 413.3 106.3 412.5 106.8 411.8M107.3 409.5 107.8 408.3 108.3 407.4 108.8 406.8 109.3 407.5 109.8 405.6M110.3 401.5 110.8 401.3 111.3 400.5 111.8 401.6 112.3 399.6 112.8 401.4 113.3 401.9 113.8 401.3 114.3 401.4 114.8 401.7 115.3 402.0 115.8 400.3 116.3 399.6 116.8 400.5 117.3 400.2 117.8 398.5 118.3 396.9M118.8 399.6 119.3 399.7 119.8 401.4 120.3 401.8 120.8 401.6 121.3 401.2 121.8 402.0 122.3 401.6 122.8 400.5 123.3 402.3M123.8 404.9 124.3 405.6 124.8 407.4M125.3 410.2 125.8 411.3 126.3 412.5 126.8 413.5 127.3 414.7 127.8 415.8 128.3 417.4 128.8 418.0 129.3 419.4 129.8 420.7 130.3 422.3 130.8 422.5 131.3 422.9 131.8 423.9 132.3 424.5 132.8 424.9 133.3 424.4 133.8 424.9 134.3 424.5 134.8 423.6 135.3 422.9 135.8 423.1 136.3 422.4 136.8 421.5 137.3 420.3 137.8 419.6 138.3 420.4 138.8 420.2 139.3 419.8 139.8 418.3 140.3 419.1 140.8 417.9 141.3 418.0 141.8 417.6 142.3 416.4 142.8 415.8 143.3 414.4 143.8 414.3 144.3 413.2 144.8 413.8 145.3 412.7 145.8 411.4 146.3 409.4M146.8 407.2 147.3 406.5 147.8 404.9 148.3 404.3 148.8 403.0 149.3 401.2 149.8 400.6 150.3 399.5 150.8 397.9 151.3 397.1 151.8 396.0M152.3 393.4 152.8 391.8M153.3 389.1 153.8 388.6 154.3 386.8M154.8 384.3 155.3 384.1 155.8 382.7 156.3 380.8 156.8 380.1 157.3 378.8 157.8 378.8 158.3 376.9 158.8 377.2 159.3 378.1 159.8 376.7 160.3 377.1 160.8 376.9 161.3 376.5 161.8 377.2 162.3 377.5 162.8 376.6 163.3 377.2 163.8 377.6 164.3 377.4 164.8 375.9 165.3 376.4 165.8 376.5 166.3 378.4 166.8 378.5 167.3 379.0 167.8 378.5 168.3 378.8 168.8 379.9 169.3 380.3 169.8 380.2 170.3 381.1 170.8 381.7 171.3 381.7 171.8 381.4 172.3 381.1 172.8 382.4 173.3 383.0 173.8 383.0 174.3 383.3 174.8 383.4 175.3 384.5 175.8 384.4 176.3 384.8 176.8 384.6 177.3 385.4 177.8 386.4 178.3 386.3 178.8 386.7 179.3 387.8 179.8 389.3 180.3 389.3 180.8 390.6 181.3 390.3"/>
<path d="M181.7 390.8 183.2 392.1 184.7 393.3 186.2 394.3 187.7 395.1 189.7 395.8 191.7 396.2 193.7 396.6 195.7 396.9 197.7 397.1 199.7 397.3 201.7 397.4 202.2 397.5"/>
<path d="M92.0 443.8 92.5 442.7 93.0 442.7 93.5 443.3 94.0 442.2 94.5 441.9 95.0 441.4 95.5 440.5 96.0 439.9 96.5 439.4 97.0 439.0 97.5 438.2 98.0 437.5 98.5 436.7 99.0 435.5 99.5 435.1 100.0 434.0 100.5 434.4M101.0 432.0 101.5 432.3 102.0 433.1M102.5 430.9 103.0 429.7 103.5 429.7 104.0 429.7 104.5 427.9 105.0 426.3M105.5 424.1h0M106.0 421.8 106.5 422.0M107.0 418.5 107.5 416.5 108.0 415.6 108.5 415.4 109.0 414.8 109.5 414.3 110.0 413.3 110.5 412.0 111.0 412.7 111.5 411.9 112.0 411.5 112.5 410.5 113.0 410.6 113.5 410.3 114.0 410.4 114.5 409.4 115.0 409.9 115.5 409.7 116.0 408.8 116.5 408.8 117.0 408.5 117.5 409.3 118.0 407.3 118.5 408.3 119.0 408.0 119.5 409.9 120.0 411.9 120.5 412.3 121.0 414.0 121.5 414.7M122.0 417.5 122.5 418.4 123.0 420.0 123.5 420.2 124.0 421.2 124.5 423.1 125.0 423.2 125.5 423.9 126.0 425.0 126.5 424.7 127.0 426.4 127.5 426.6 128.0 427.4 128.5 427.4 129.0 428.6 129.5 428.4 130.0 429.5 130.5 429.9 131.0 430.0 131.5 430.1 132.0 430.4 132.5 428.8M133.0 431.1 133.5 430.5 134.0 430.7 134.5 430.5 135.0 429.9 135.5 430.4 136.0 431.1 136.5 431.6 137.0 430.3 137.5 429.8 138.0 430.8 138.5 429.2 139.0 430.5 139.5 429.0 140.0 427.8 140.5 428.1 141.0 427.8M141.5 425.4 142.0 426.4 142.5 424.7 143.0 425.1 143.5 423.4 144.0 422.1 144.5 422.7 145.0 422.3 145.5 422.3 146.0 421.4 146.5 419.5 147.0 417.7 147.5 416.2 148.0 414.9 148.5 413.4 149.0 413.0 149.5 411.0 150.0 411.8 150.5 410.9 151.0 411.6 151.5 409.9"/>
<path d="M151.7 409.1 152.2 408.7 152.7 407.6 153.2 407.0 153.7 406.1 154.2 406.2 154.7 405.3 155.2 404.2 155.7 403.9 156.2 403.5 156.7 402.8 157.2 402.3 157.7 401.5 158.2 401.1 158.7 400.8 159.2 400.5 159.7 399.7 160.2 399.1 160.7 399.3 161.2 398.3 161.7 398.4 162.2 397.8 162.7 397.6 163.2 397.4 163.7 396.8 164.2 396.5 164.7 395.8 165.2 395.6 165.7 395.7 166.2 395.6 166.7 395.3 167.2 395.3 167.7 394.6 168.2 394.3 168.7 394.2 169.2 393.7 169.7 393.5 170.2 393.0 170.7 393.3 171.2 392.6 171.7 392.8 172.2 392.1 172.7 392.5 173.2 391.8 173.7 392.1 174.2 391.4 174.7 391.5 175.2 391.8 175.7 391.3 176.2 391.4 176.7 391.2 177.2 390.7 177.7 391.4 178.2 391.4 178.7 390.9 179.2 391.3 179.7 390.9 180.2 390.8 180.7 391.0 181.2 390.7 181.7 391.4"/>
<path d="M91.7 444.6 92.2 445.1 92.7 444.5M93.2 442.1 93.7 441.5 94.2 442.0 94.7 440.7 95.2 440.4 95.7 440.0 96.2 438.4 96.7 437.5 97.2 436.0 97.7 437.1 98.2 435.9 98.7 436.0 99.2 435.4 99.7 434.0 100.2 435.2 100.7 434.3 101.2 433.8 101.7 432.3 102.2 432.3 102.7 431.8 103.2 431.4 103.7 430.6 104.2 431.1 104.7 430.5 105.2 430.2 105.7 429.5 106.2 430.3 106.7 429.5 107.2 427.7 107.7 428.7 108.2 428.8 108.7 429.2 109.2 428.3 109.7 428.2 110.2 427.9 110.7 428.8 111.2 428.4 111.7 428.5 112.2 428.7 112.7 429.6 113.2 429.2 113.7 428.8 114.2 430.4 114.7 430.3 115.2 431.5 115.7 432.1 116.2 433.2 116.7 433.7 117.2 433.5 117.7 433.5 118.2 432.6 118.7 434.0 119.2 433.0 119.7 433.3 120.2 432.1 120.7 431.2M121.2 433.4 121.7 432.8 122.2 433.0 122.7 433.2 123.2 433.7 123.7 433.8 124.2 432.8 124.7 434.6 125.2 434.0 125.7 434.3 126.2 435.8 126.7 435.7 127.2 435.3 127.7 434.8 128.2 436.2 128.7 436.6 129.2 436.6 129.7 436.2 130.2 436.7 130.7 436.7 131.2 437.7 131.7 438.3 132.2 438.7"/>
<path d="M110.0 434.2 110.5 434.9 111.0 435.2 111.5 434.7 112.0 435.0 112.5 436.4 113.0 435.5 113.5 436.5 114.0 436.8 114.5 438.0 115.0 438.1 115.5 440.0 116.0 441.8 116.5 443.5 117.0 444.1 117.5 445.0 118.0 445.8 118.5 447.2 119.0 449.2M119.5 451.4 120.0 451.9 120.5 454.0 121.0 454.1 121.5 454.9 122.0 456.4 122.5 456.4 123.0 456.9 123.5 458.6 124.0 458.1 124.5 458.7 125.0 459.5 125.5 459.5 126.0 458.2 126.5 458.8 127.0 458.0 127.5 457.4 128.0 457.3 128.5 455.9 129.0 455.9 129.5 455.9 130.0 456.0 130.5 455.1 131.0 454.9 131.5 455.2 132.0 455.1 132.5 454.4 133.0 454.4 133.5 453.1 134.0 452.8 134.5 453.3 135.0 453.0 135.5 453.0 136.0 454.3 136.5 453.4 137.0 453.1 137.5 454.0 138.0 454.8 138.5 453.1 139.0 453.1 139.5 451.5 140.0 450.7 140.5 449.6 141.0 448.9 141.5 448.9M142.0 446.3h0"/>
<path d="M90.8 452.3 91.3 450.8 91.8 451.3 92.3 451.9 92.8 451.7 93.3 451.6 93.8 450.5 94.3 451.8 94.8 451.3M95.3 453.6 95.8 452.3 96.3 452.8 96.8 452.4 97.3 453.0 97.8 452.9 98.3 454.4 98.8 454.0 99.3 454.7 99.8 454.3 100.3 454.5 100.8 455.6 101.3 454.5 101.8 454.2 102.3 455.5 102.8 454.8 103.3 455.3 103.8 456.2 104.3 455.3"/>
<path d="M137.2 432.0h0" stroke-width="2.0" stroke-opacity="0.6"/>
<path d="M81.9 419.0 L82.1 422.1 L82.7 425.3 L81.4 427.4 L81.9 431.1 L83.4 433.6 L83.1 436.5 L82.7 439.5 L82.7 441.8 L82.4 445.5 L82.7 449.0 L82.9 451.1 L82.0 454.3 L83.1 456.4 L82.8 459.3"/>
<path d="M84.3 421.5 L83.7 425.3 L83.8 428.9 L84.7 432.8 L83.2 435.0 L84.8 437.4 L84.2 440.3 L83.9 442.9 L83.6 445.7 L84.1 448.9 L84.3 452.7 L84.6 456.5 L84.2 460.5"/>
<path d="M86.1 424.0 L86.2 427.9 L85.8 431.1 L86.1 433.5 L85.0 436.6 L86.1 438.8 L84.6 442.7 L85.2 446.3 L85.0 448.6 L86.1 452.2 L85.6 454.3 L85.8 456.4 L86.2 459.0"/>
<path d="M86.9 426.5 L86.5 430.5 L87.1 432.7 L86.3 434.7 L87.1 437.5 L86.0 439.8 L86.5 443.6 L87.7 447.5 L86.8 450.3 L87.2 453.3 L87.0 456.5 L87.8 459.7"/>
<path d="M88.3 429.0 L87.9 432.4 L89.4 435.0 L88.5 438.1 L88.2 440.1 L87.4 443.3 L88.7 446.5 L88.7 448.6 L88.8 451.6 L88.8 454.3 L87.4 457.7 L88.8 459.9"/>
<path d="M89.4 431.5 L90.1 434.4 L89.6 437.1 L89.6 439.7 L89.5 442.9 L90.4 445.6 L90.0 447.7 L89.5 451.1 L90.5 453.6 L89.3 456.1 L90.3 458.9"/>
<path d="M84.0 422.0 L88.0 430.0 L84.0 438.0 L90.0 446.0 L84.0 454.0 L90.0 461.0"/>
</g>
<path d="M82.5 499.0v3.2M82.5 521.0v3.2M82.5 543.0v3.2M82.5 565.0v3.2M130.5 499.0v3.2M130.5 521.0v3.2M130.5 543.0v3.2M130.5 565.0v3.2M188.5 499.0v3.2M188.5 521.0v3.2M188.5 543.0v3.2M188.5 565.0v3.2M245.5 499.0v3.2M245.5 521.0v3.2M245.5 543.0v3.2M245.5 565.0v3.2M303.5 499.0v3.2M303.5 521.0v3.2M303.5 543.0v3.2M303.5 565.0v3.2M361.5 499.0v3.2M361.5 521.0v3.2M361.5 543.0v3.2M361.5 565.0v3.2M418.5 499.0v3.2M418.5 521.0v3.2M418.5 543.0v3.2M418.5 565.0v3.2M476.5 499.0v3.2M476.5 521.0v3.2M476.5 543.0v3.2M476.5 565.0v3.2M534.5 499.0v3.2M534.5 521.0v3.2M534.5 543.0v3.2M534.5 565.0v3.2M592.5 499.0v3.2M592.5 521.0v3.2M592.5 543.0v3.2M592.5 565.0v3.2M649.5 499.0v3.2M649.5 521.0v3.2M649.5 543.0v3.2M649.5 565.0v3.2M707.5 499.0v3.2M707.5 521.0v3.2M707.5 543.0v3.2M707.5 565.0v3.2M755.5 499.0v3.2M755.5 521.0v3.2M755.5 543.0v3.2M755.5 565.0v3.2M72.0 498.5h-3.2M72.0 445.5h-3.2M72.0 393.5h-3.2M72.0 340.5h-3.2M72.0 288.5h-3.2M72.0 235.5h-3.2M72.0 183.5h-3.2M72.0 130.5h-3.2M72.0 78.5h-3.2" stroke="#222" stroke-width="0.9" fill="none"/>
<path d="M72.0 520.5H766.0" stroke="#000" stroke-width="1" fill="none" shape-rendering="crispEdges"/>
<path d="M72.0 542.5H766.0" stroke="#000" stroke-width="1" fill="none" shape-rendering="crispEdges"/>
<path d="M72.0 564.5H766.0" stroke="#000" stroke-width="1" fill="none" shape-rendering="crispEdges"/>
<rect x="72.5" y="60.5" width="693.0" height="438.0" fill="none" stroke="#000" stroke-width="1" shape-rendering="crispEdges"/>
</svg>
<div id="labels" style="position:absolute;left:0;top:0;width:900px;height:600px;will-change:transform">
<span class="t a" style="left:42.56px;top:489.79px;transform:scaleX(1.0448)">0.0</span>
<span class="t a" style="left:32.87px;top:437.35px;transform:scaleX(1.0528)">10.0</span>
<span class="t a" style="left:32.75px;top:384.91px;transform:scaleX(1.0566)">20.0</span>
<span class="t a" style="left:33.01px;top:332.47px;transform:scaleX(1.0483)">30.0</span>
<span class="t a" style="left:32.85px;top:280.03px;transform:scaleX(1.0535)">40.0</span>
<span class="t a" style="left:32.99px;top:227.59px;transform:scaleX(1.0489)">50.0</span>
<span class="t a" style="left:32.69px;top:175.15px;transform:scaleX(1.0586)">60.0</span>
<span class="t a" style="left:32.87px;top:122.71px;transform:scaleX(1.0527)">70.0</span>
<span class="t a" style="left:32.79px;top:70.27px;transform:scaleX(1.0555)">80.0</span>
<span class="t a" style="left:68.08px;top:501.94px;transform:scaleX(1.0513)">87.3</span>
<span class="t a" style="left:115.90px;top:501.94px;transform:scaleX(1.0527)">75.0</span>
<span class="t a" style="left:173.51px;top:501.94px;transform:scaleX(1.0586)">60.0</span>
<span class="t a" style="left:231.53px;top:501.94px;transform:scaleX(1.0535)">45.0</span>
<span class="t a" style="left:289.18px;top:501.94px;transform:scaleX(1.0483)">30.0</span>
<span class="t a" style="left:346.48px;top:501.94px;transform:scaleX(1.0528)">15.0</span>
<span class="t a" style="left:409.35px;top:501.94px;transform:scaleX(1.0448)">0.0</span>
<span class="t a" style="left:457.68px;top:501.94px;transform:scaleX(1.0165)">-15.0</span>
<span class="t a" style="left:515.38px;top:501.94px;transform:scaleX(1.0165)">-30.0</span>
<span class="t a" style="left:573.08px;top:501.94px;transform:scaleX(1.0165)">-45.0</span>
<span class="t a" style="left:630.78px;top:501.94px;transform:scaleX(1.0165)">-60.0</span>
<span class="t a" style="left:688.48px;top:501.94px;transform:scaleX(1.0165)">-75.0</span>
<span class="t a" style="left:736.64px;top:501.94px;transform:scaleX(1.0129)">-87.3</span>
<span class="t a" style="left:65.94px;top:524.04px;transform:scaleX(1.0448)">86.2</span>
<span class="t a" style="left:113.74px;top:524.04px;transform:scaleX(1.0494)">77.7</span>
<span class="t a" style="left:171.22px;top:524.04px;transform:scaleX(1.0602)">61.8</span>
<span class="t a" style="left:229.20px;top:524.04px;transform:scaleX(1.0579)">44.6</span>
<span class="t a" style="left:286.57px;top:524.04px;transform:scaleX(1.0563)">27.4</span>
<span class="t a" style="left:344.29px;top:524.04px;transform:scaleX(1.0485)">14.3</span>
<span class="t a" style="left:400.01px;top:524.04px;transform:scaleX(1.0187)">-14.9</span>
<span class="t a" style="left:457.95px;top:524.04px;transform:scaleX(1.0072)">-24.2</span>
<span class="t a" style="left:515.53px;top:524.04px;transform:scaleX(1.0135)">-33.7</span>
<span class="t a" style="left:573.10px;top:524.04px;transform:scaleX(1.0177)">-42.8</span>
<span class="t a" style="left:630.70px;top:524.04px;transform:scaleX(1.0163)">-52.4</span>
<span class="t a" style="left:688.41px;top:524.04px;transform:scaleX(1.0163)">-63.4</span>
<span class="t a" style="left:736.56px;top:524.04px;transform:scaleX(1.0187)">-75.9</span>
<span class="t a" style="left:65.61px;top:546.14px;transform:scaleX(1.0581)">20.8</span>
<span class="t a" style="left:113.40px;top:546.14px;transform:scaleX(1.0543)">11.8</span>
<span class="t a" style="left:171.00px;top:546.14px;transform:scaleX(1.0524)">11.4</span>
<span class="t a" style="left:228.89px;top:546.14px;transform:scaleX(1.0485)">11.3</span>
<span class="t a" style="left:286.75px;top:546.14px;transform:scaleX(1.0418)">11.2</span>
<span class="t a" style="left:344.39px;top:546.14px;transform:scaleX(1.0450)">11.1</span>
<span class="t a" style="left:401.91px;top:546.14px;transform:scaleX(1.0555)">10.9</span>
<span class="t a" style="left:459.55px;top:546.14px;transform:scaleX(1.0573)">10.6</span>
<span class="t a" style="left:517.21px;top:546.14px;transform:scaleX(1.0524)">10.4</span>
<span class="t a" style="left:574.91px;top:546.14px;transform:scaleX(1.0524)">10.4</span>
<span class="t a" style="left:632.61px;top:546.14px;transform:scaleX(1.0524)">10.4</span>
<span class="t a" style="left:690.56px;top:546.14px;transform:scaleX(1.0436)">10.5</span>
<span class="t a" style="left:738.54px;top:546.14px;transform:scaleX(1.0485)">10.3</span>
<span class="t a" style="left:60.44px;top:568.24px;transform:scaleX(1.0677)">12:39</span>
<span class="t a" style="left:108.47px;top:568.24px;transform:scaleX(1.0624)">12:43</span>
<span class="t a" style="left:166.21px;top:568.24px;transform:scaleX(1.0631)">12:47</span>
<span class="t a" style="left:223.97px;top:568.24px;transform:scaleX(1.0597)">12:51</span>
<span class="t a" style="left:281.63px;top:568.24px;transform:scaleX(1.0586)">12:55</span>
<span class="t a" style="left:339.19px;top:568.24px;transform:scaleX(1.0677)">12:59</span>
<span class="t a" style="left:396.97px;top:568.24px;transform:scaleX(1.0624)">13:03</span>
<span class="t a" style="left:454.71px;top:568.24px;transform:scaleX(1.0631)">13:07</span>
<span class="t a" style="left:512.26px;top:568.24px;transform:scaleX(1.0656)">13:10</span>
<span class="t a" style="left:569.89px;top:568.24px;transform:scaleX(1.0652)">13:14</span>
<span class="t a" style="left:627.68px;top:568.24px;transform:scaleX(1.0668)">13:18</span>
<span class="t a" style="left:685.63px;top:568.24px;transform:scaleX(1.0573)">13:22</span>
<span class="t a" style="left:733.38px;top:568.24px;transform:scaleX(1.0691)">13:26</span>
<span class="t a" style="left:786.07px;top:502.54px;transform:scaleX(1.0707)">LAT [°]</span>
<span class="t a" style="left:786.12px;top:524.64px;transform:scaleX(1.0347)">MLAT [°]</span>
<span class="t a" style="left:786.12px;top:546.74px;transform:scaleX(1.0382)">MLT [h]</span>
<span class="t a" style="left:786.30px;top:568.84px;transform:scaleX(0.9538)">UTC [HH : MM]</span>
<span class="t h" style="left:155.17px;top:15.78px;transform:scaleX(1.0345)">Swarm</span>
<span class="t h" style="left:224.38px;top:15.78px;transform:scaleX(0.9631)">C,</span>
<span class="t h" style="left:252.36px;top:15.78px;transform:scaleX(1.0926)">2026</span>
<span class="t h" style="left:303.38px;top:15.78px;transform:scaleX(1.2776)">−</span>
<span class="t h" style="left:321.86px;top:15.78px;transform:scaleX(1.0604)">01</span>
<span class="t h" style="left:349.54px;top:15.78px;transform:scaleX(1.2776)">−</span>
<span class="t h" style="left:367.73px;top:15.78px;transform:scaleX(1.1173)">24,</span>
<span class="t h" style="left:406.55px;top:15.78px;transform:scaleX(0.9335)">TEC</span>
<span class="t h" style="left:449.52px;top:15.78px;transform:scaleX(1.0835)">southward,</span>
<span class="t h" style="left:561.57px;top:15.78px;transform:scaleX(1.1458)">orbit</span>
<span class="t h" style="left:611.58px;top:15.78px;transform:scaleX(1.1189)">#68402</span>
<span class="t h" style="left:116.56px;top:37.88px;transform:scaleX(1.0648)">Equator</span>
<span class="t h" style="left:191.66px;top:37.88px;transform:scaleX(1.0876)">:</span>
<span class="t h" style="left:207.26px;top:37.88px;transform:scaleX(0.9342)">UTC</span>
<span class="t h" style="left:251.31px;top:37.88px;transform:scaleX(1.0437)">13</span>
<span class="t h" style="left:278.05px;top:37.88px;transform:scaleX(1.0876)">:</span>
<span class="t h" style="left:288.21px;top:37.88px;transform:scaleX(1.0564)">03</span>
<span class="t h" style="left:315.21px;top:37.88px;transform:scaleX(1.0876)">:</span>
<span class="t h" style="left:325.37px;top:37.88px;transform:scaleX(1.0674)">08,</span>
<span class="t h" style="left:363.73px;top:37.88px;transform:scaleX(1.0239)">LT</span>
<span class="t h" style="left:391.89px;top:37.88px;transform:scaleX(1.0779)">10.95h,</span>
<span class="t h" style="left:471.21px;top:37.88px;transform:scaleX(1.0209)">Lon</span>
<span class="t h" style="left:514.81px;top:37.88px;transform:scaleX(1.2789)">−</span>
<span class="t h" style="left:533.30px;top:37.88px;transform:scaleX(1.1027)">31.58°,</span>
<span class="t h" style="left:610.41px;top:37.88px;transform:scaleX(1.1181)">Alt</span>
<span class="t h" style="left:642.12px;top:37.88px;transform:scaleX(1.0780)">433.4km</span>
<span class="yl a" style="left:6.94px;top:322.95px;transform:rotate(-90deg) scaleX(0.9577)">TEC [TECU]</span>
</div>
</body></html>
